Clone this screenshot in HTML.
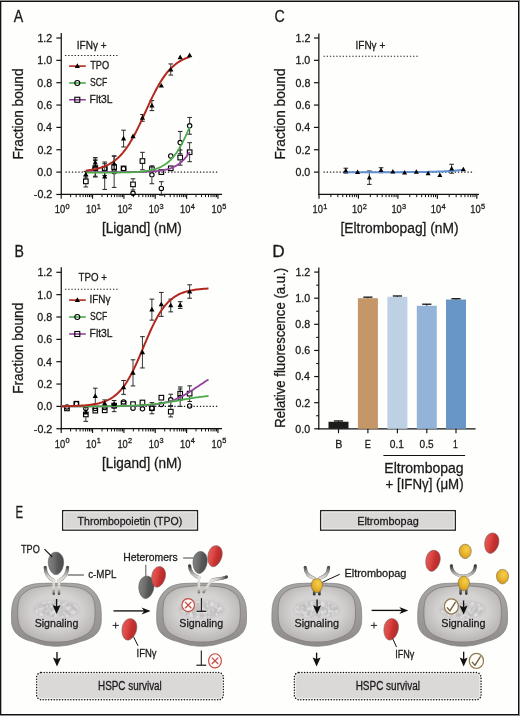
<!DOCTYPE html><html><head><meta charset="utf-8"><style>html,body{margin:0;padding:0;background:#fff;}svg{display:block;will-change:transform} text{stroke:#1a1a1a;stroke-width:0.28px}</style></head><body><svg width="520" height="716" viewBox="0 0 520 716" font-family='"Liberation Sans", sans-serif'><defs>
<linearGradient id="gOuter" x1="0" y1="0" x2="0" y2="1">
  <stop offset="0" stop-color="#a8a5a5"/><stop offset="0.55" stop-color="#9d9999"/><stop offset="1" stop-color="#8e8a8a"/>
</linearGradient>
<radialGradient id="gInner" cx="0.5" cy="0.45" r="0.55">
  <stop offset="0" stop-color="#e2e0e0"/><stop offset="0.6" stop-color="#d3d0d0"/><stop offset="1" stop-color="#b9b5b5"/>
</radialGradient>
<linearGradient id="gGray" x1="0" y1="0" x2="1" y2="0">
  <stop offset="0" stop-color="#828282"/><stop offset="0.42" stop-color="#6c6c6c"/><stop offset="0.58" stop-color="#5a5a5a"/><stop offset="1" stop-color="#4a4a4a"/>
</linearGradient>
<linearGradient id="gRed" x1="0" y1="0" x2="1" y2="0">
  <stop offset="0" stop-color="#e65a55"/><stop offset="0.42" stop-color="#d84340"/><stop offset="0.58" stop-color="#c93332"/><stop offset="1" stop-color="#b42a2a"/>
</linearGradient>
<radialGradient id="gYel" cx="0.6" cy="0.35" r="0.7">
  <stop offset="0" stop-color="#f6cf4a"/><stop offset="0.6" stop-color="#e6b22a"/><stop offset="1" stop-color="#c9951a"/>
</radialGradient>
<filter id="fChrom" x="0" y="0" width="1" height="1">
  <feTurbulence type="fractalNoise" baseFrequency="0.28" numOctaves="2" seed="3" result="n"/>
  <feColorMatrix in="n" type="matrix" values="0 0 0 0 1  0 0 0 0 1  0 0 0 0 1  1.6 0 0 0 -0.55" result="w"/>
  <feComposite in="w" in2="SourceGraphic" operator="in"/>
</filter>
<filter id="fBlur" x="-0.2" y="-0.2" width="1.4" height="1.4"><feGaussianBlur stdDeviation="1.6"/></filter>

<linearGradient id="gArm" gradientUnits="userSpaceOnUse" x1="0" y1="566" x2="0" y2="580">
  <stop offset="0" stop-color="#383838"/><stop offset="0.35" stop-color="#8e8c8a"/><stop offset="0.75" stop-color="#d6d2cd"/><stop offset="1" stop-color="#e4e0db"/>
</linearGradient>
<linearGradient id="gStem" gradientUnits="userSpaceOnUse" x1="0" y1="579" x2="0" y2="595">
  <stop offset="0" stop-color="#e6e2dd"/><stop offset="0.6" stop-color="#d6d1cb"/><stop offset="0.82" stop-color="#8a8784"/><stop offset="1" stop-color="#3a3a3a"/>
</linearGradient>
<linearGradient id="gArm2" gradientUnits="userSpaceOnUse" x1="227" y1="0" x2="212" y2="0">
  <stop offset="0" stop-color="#383838"/><stop offset="0.3" stop-color="#8e8c8a"/><stop offset="0.7" stop-color="#d6d2cd"/><stop offset="1" stop-color="#e4e0db"/>
</linearGradient>
<linearGradient id="gStub" gradientUnits="userSpaceOnUse" x1="0" y1="588" x2="0" y2="595">
  <stop offset="0" stop-color="#8a8886"/><stop offset="1" stop-color="#2e2e2e"/>
</linearGradient>
</defs><rect x="0" y="0" width="520" height="716" fill="#fefefd"/>
<text x="13.82" y="21.9" font-size="16.4" fill="#1a1a1a" textLength="9.46" lengthAdjust="spacingAndGlyphs">A</text>
<line x1="61.25" y1="33" x2="61.25" y2="194.95" stroke="#111" stroke-width="1.25"/>
<line x1="56.35" y1="38" x2="61.25" y2="38" stroke="#111" stroke-width="1.2"/>
<text x="37.4" y="41.85" font-size="11" fill="#1a1a1a" textLength="14.83" lengthAdjust="spacingAndGlyphs">1.2</text>
<line x1="56.35" y1="60.35" x2="61.25" y2="60.35" stroke="#111" stroke-width="1.2"/>
<text x="37.28" y="64.2" font-size="11" fill="#1a1a1a" textLength="14.83" lengthAdjust="spacingAndGlyphs">1.0</text>
<line x1="56.35" y1="82.7" x2="61.25" y2="82.7" stroke="#111" stroke-width="1.2"/>
<text x="37.33" y="86.55" font-size="11" fill="#1a1a1a" textLength="14.83" lengthAdjust="spacingAndGlyphs">0.8</text>
<line x1="56.35" y1="105.05" x2="61.25" y2="105.05" stroke="#111" stroke-width="1.2"/>
<text x="37.34" y="108.9" font-size="11" fill="#1a1a1a" textLength="14.83" lengthAdjust="spacingAndGlyphs">0.6</text>
<line x1="56.35" y1="127.4" x2="61.25" y2="127.4" stroke="#111" stroke-width="1.2"/>
<text x="37.18" y="131.25" font-size="11" fill="#1a1a1a" textLength="14.83" lengthAdjust="spacingAndGlyphs">0.4</text>
<line x1="56.35" y1="149.75" x2="61.25" y2="149.75" stroke="#111" stroke-width="1.2"/>
<text x="37.4" y="153.6" font-size="11" fill="#1a1a1a" textLength="14.83" lengthAdjust="spacingAndGlyphs">0.2</text>
<line x1="56.35" y1="172.1" x2="61.25" y2="172.1" stroke="#111" stroke-width="1.2"/>
<text x="37.28" y="175.95" font-size="11" fill="#1a1a1a" textLength="14.83" lengthAdjust="spacingAndGlyphs">0.0</text>
<line x1="56.35" y1="194.45" x2="61.25" y2="194.45" stroke="#111" stroke-width="1.2"/>
<text x="33.85" y="198.3" font-size="11" fill="#1a1a1a" textLength="18.39" lengthAdjust="spacingAndGlyphs">-0.2</text>
<line x1="60.6" y1="194.35" x2="222" y2="194.35" stroke="#111" stroke-width="1.25"/>
<line x1="61.2" y1="194.35" x2="61.2" y2="198.65" stroke="#111" stroke-width="1.15"/>
<text x="62.1" y="213.35" font-size="11" fill="#1a1a1a" text-anchor="middle"><tspan textLength="10.4" lengthAdjust="spacingAndGlyphs">10</tspan><tspan font-size="7.4" dy="-4.6" dx="0.3">0</tspan></text>
<line x1="70.64" y1="194.35" x2="70.64" y2="197.15" stroke="#111" stroke-width="1"/>
<line x1="76.16" y1="194.35" x2="76.16" y2="197.15" stroke="#111" stroke-width="1"/>
<line x1="80.07" y1="194.35" x2="80.07" y2="197.15" stroke="#111" stroke-width="1"/>
<line x1="83.11" y1="194.35" x2="83.11" y2="197.15" stroke="#111" stroke-width="1"/>
<line x1="85.6" y1="194.35" x2="85.6" y2="197.15" stroke="#111" stroke-width="1"/>
<line x1="87.69" y1="194.35" x2="87.69" y2="197.15" stroke="#111" stroke-width="1"/>
<line x1="89.51" y1="194.35" x2="89.51" y2="197.15" stroke="#111" stroke-width="1"/>
<line x1="91.12" y1="194.35" x2="91.12" y2="197.15" stroke="#111" stroke-width="1"/>
<line x1="92.55" y1="194.35" x2="92.55" y2="198.65" stroke="#111" stroke-width="1.15"/>
<text x="93.45" y="213.35" font-size="11" fill="#1a1a1a" text-anchor="middle"><tspan textLength="10.4" lengthAdjust="spacingAndGlyphs">10</tspan><tspan font-size="7.4" dy="-4.6" dx="0.3">1</tspan></text>
<line x1="101.99" y1="194.35" x2="101.99" y2="197.15" stroke="#111" stroke-width="1"/>
<line x1="107.51" y1="194.35" x2="107.51" y2="197.15" stroke="#111" stroke-width="1"/>
<line x1="111.42" y1="194.35" x2="111.42" y2="197.15" stroke="#111" stroke-width="1"/>
<line x1="114.46" y1="194.35" x2="114.46" y2="197.15" stroke="#111" stroke-width="1"/>
<line x1="116.95" y1="194.35" x2="116.95" y2="197.15" stroke="#111" stroke-width="1"/>
<line x1="119.04" y1="194.35" x2="119.04" y2="197.15" stroke="#111" stroke-width="1"/>
<line x1="120.86" y1="194.35" x2="120.86" y2="197.15" stroke="#111" stroke-width="1"/>
<line x1="122.47" y1="194.35" x2="122.47" y2="197.15" stroke="#111" stroke-width="1"/>
<line x1="123.9" y1="194.35" x2="123.9" y2="198.65" stroke="#111" stroke-width="1.15"/>
<text x="124.8" y="213.35" font-size="11" fill="#1a1a1a" text-anchor="middle"><tspan textLength="10.4" lengthAdjust="spacingAndGlyphs">10</tspan><tspan font-size="7.4" dy="-4.6" dx="0.3">2</tspan></text>
<line x1="133.34" y1="194.35" x2="133.34" y2="197.15" stroke="#111" stroke-width="1"/>
<line x1="138.86" y1="194.35" x2="138.86" y2="197.15" stroke="#111" stroke-width="1"/>
<line x1="142.77" y1="194.35" x2="142.77" y2="197.15" stroke="#111" stroke-width="1"/>
<line x1="145.81" y1="194.35" x2="145.81" y2="197.15" stroke="#111" stroke-width="1"/>
<line x1="148.3" y1="194.35" x2="148.3" y2="197.15" stroke="#111" stroke-width="1"/>
<line x1="150.39" y1="194.35" x2="150.39" y2="197.15" stroke="#111" stroke-width="1"/>
<line x1="152.21" y1="194.35" x2="152.21" y2="197.15" stroke="#111" stroke-width="1"/>
<line x1="153.82" y1="194.35" x2="153.82" y2="197.15" stroke="#111" stroke-width="1"/>
<line x1="155.25" y1="194.35" x2="155.25" y2="198.65" stroke="#111" stroke-width="1.15"/>
<text x="156.15" y="213.35" font-size="11" fill="#1a1a1a" text-anchor="middle"><tspan textLength="10.4" lengthAdjust="spacingAndGlyphs">10</tspan><tspan font-size="7.4" dy="-4.6" dx="0.3">3</tspan></text>
<line x1="164.69" y1="194.35" x2="164.69" y2="197.15" stroke="#111" stroke-width="1"/>
<line x1="170.21" y1="194.35" x2="170.21" y2="197.15" stroke="#111" stroke-width="1"/>
<line x1="174.12" y1="194.35" x2="174.12" y2="197.15" stroke="#111" stroke-width="1"/>
<line x1="177.16" y1="194.35" x2="177.16" y2="197.15" stroke="#111" stroke-width="1"/>
<line x1="179.65" y1="194.35" x2="179.65" y2="197.15" stroke="#111" stroke-width="1"/>
<line x1="181.74" y1="194.35" x2="181.74" y2="197.15" stroke="#111" stroke-width="1"/>
<line x1="183.56" y1="194.35" x2="183.56" y2="197.15" stroke="#111" stroke-width="1"/>
<line x1="185.17" y1="194.35" x2="185.17" y2="197.15" stroke="#111" stroke-width="1"/>
<line x1="186.6" y1="194.35" x2="186.6" y2="198.65" stroke="#111" stroke-width="1.15"/>
<text x="187.5" y="213.35" font-size="11" fill="#1a1a1a" text-anchor="middle"><tspan textLength="10.4" lengthAdjust="spacingAndGlyphs">10</tspan><tspan font-size="7.4" dy="-4.6" dx="0.3">4</tspan></text>
<line x1="196.04" y1="194.35" x2="196.04" y2="197.15" stroke="#111" stroke-width="1"/>
<line x1="201.56" y1="194.35" x2="201.56" y2="197.15" stroke="#111" stroke-width="1"/>
<line x1="205.47" y1="194.35" x2="205.47" y2="197.15" stroke="#111" stroke-width="1"/>
<line x1="208.51" y1="194.35" x2="208.51" y2="197.15" stroke="#111" stroke-width="1"/>
<line x1="211" y1="194.35" x2="211" y2="197.15" stroke="#111" stroke-width="1"/>
<line x1="213.09" y1="194.35" x2="213.09" y2="197.15" stroke="#111" stroke-width="1"/>
<line x1="214.91" y1="194.35" x2="214.91" y2="197.15" stroke="#111" stroke-width="1"/>
<line x1="216.52" y1="194.35" x2="216.52" y2="197.15" stroke="#111" stroke-width="1"/>
<line x1="217.95" y1="194.35" x2="217.95" y2="198.65" stroke="#111" stroke-width="1.15"/>
<text x="218.85" y="213.35" font-size="11" fill="#1a1a1a" text-anchor="middle"><tspan textLength="10.4" lengthAdjust="spacingAndGlyphs">10</tspan><tspan font-size="7.4" dy="-4.6" dx="0.3">5</tspan></text>
<text x="101.98" y="233.2" font-size="13.8" fill="#1a1a1a" textLength="79.91" lengthAdjust="spacingAndGlyphs">[Ligand] (nM)</text>
<text transform="translate(22.8 159.57) rotate(-90)" font-size="13.8" fill="#1a1a1a" textLength="91.1" lengthAdjust="spacingAndGlyphs">Fraction bound</text>
<line x1="65.5" y1="172.1" x2="217.5" y2="172.1" stroke="#222" stroke-width="1.1" stroke-dasharray="1.3 1.9"/>
<text x="76.82" y="48.5" font-size="10.8" fill="#1a1a1a" textLength="29.82" lengthAdjust="spacingAndGlyphs">IFNγ +</text>
<line x1="65" y1="55.5" x2="118.2" y2="55.5" stroke="#222" stroke-width="1.1" stroke-dasharray="1.3 1.9"/>
<line x1="69.1" y1="66.1" x2="85.8" y2="66.1" stroke="#b2281f" stroke-width="1.6"/>
<text x="90.24" y="69.15" font-size="10.8" fill="#1a1a1a" textLength="18.95" lengthAdjust="spacingAndGlyphs">TPO</text>
<line x1="69.1" y1="83" x2="85.8" y2="83" stroke="#4caa4c" stroke-width="1.6"/>
<text x="90.06" y="86.05" font-size="10.8" fill="#1a1a1a" textLength="17.24" lengthAdjust="spacingAndGlyphs">SCF</text>
<line x1="69.1" y1="99.75" x2="85.8" y2="99.75" stroke="#93429b" stroke-width="1.6"/>
<text x="89.6" y="102.8" font-size="10.8" fill="#1a1a1a" textLength="22.99" lengthAdjust="spacingAndGlyphs">Flt3L</text>
<path d="M77.35 63.29L79.95 67.97L74.75 67.97Z" fill="#000"/>
<circle cx="77.3" cy="83" r="2.5" fill="none" stroke="#000" stroke-width="1.1"/>
<rect x="74.8" y="97.25" width="5" height="5" fill="none" stroke="#000" stroke-width="1.1"/>
<line x1="85.83" y1="175.79" x2="85.83" y2="178.48" stroke="#222" stroke-width="0.9"/>
<line x1="85.83" y1="184.28" x2="85.83" y2="186.96" stroke="#222" stroke-width="0.9"/>
<line x1="83.53" y1="175.79" x2="88.13" y2="175.79" stroke="#222" stroke-width="1"/>
<line x1="83.53" y1="186.96" x2="88.13" y2="186.96" stroke="#222" stroke-width="1"/>
<line x1="95.27" y1="159.14" x2="95.27" y2="165.18" stroke="#222" stroke-width="0.9"/>
<line x1="95.27" y1="170.98" x2="95.27" y2="177.02" stroke="#222" stroke-width="0.9"/>
<line x1="92.97" y1="159.14" x2="97.57" y2="159.14" stroke="#222" stroke-width="1"/>
<line x1="92.97" y1="177.02" x2="97.57" y2="177.02" stroke="#222" stroke-width="1"/>
<line x1="133.01" y1="178.81" x2="133.01" y2="181.49" stroke="#222" stroke-width="0.9"/>
<line x1="133.01" y1="187.29" x2="133.01" y2="189.98" stroke="#222" stroke-width="0.9"/>
<line x1="130.71" y1="178.81" x2="135.31" y2="178.81" stroke="#222" stroke-width="1"/>
<line x1="130.71" y1="189.98" x2="135.31" y2="189.98" stroke="#222" stroke-width="1"/>
<line x1="142.45" y1="152.32" x2="142.45" y2="158.14" stroke="#222" stroke-width="0.9"/>
<line x1="142.45" y1="163.94" x2="142.45" y2="169.75" stroke="#222" stroke-width="0.9"/>
<line x1="140.15" y1="152.32" x2="144.75" y2="152.32" stroke="#222" stroke-width="1"/>
<line x1="140.15" y1="169.75" x2="144.75" y2="169.75" stroke="#222" stroke-width="1"/>
<line x1="180.2" y1="149.97" x2="180.2" y2="154.67" stroke="#222" stroke-width="0.9"/>
<line x1="180.2" y1="160.47" x2="180.2" y2="165.17" stroke="#222" stroke-width="0.9"/>
<line x1="177.9" y1="149.97" x2="182.5" y2="149.97" stroke="#222" stroke-width="1"/>
<line x1="177.9" y1="165.17" x2="182.5" y2="165.17" stroke="#222" stroke-width="1"/>
<line x1="189.64" y1="142.71" x2="189.64" y2="149.31" stroke="#222" stroke-width="0.9"/>
<line x1="189.64" y1="155.11" x2="189.64" y2="161.71" stroke="#222" stroke-width="0.9"/>
<line x1="187.34" y1="142.71" x2="191.94" y2="142.71" stroke="#222" stroke-width="1"/>
<line x1="187.34" y1="161.71" x2="191.94" y2="161.71" stroke="#222" stroke-width="1"/>
<line x1="95.27" y1="160.59" x2="95.27" y2="165.61" stroke="#222" stroke-width="0.9"/>
<line x1="95.27" y1="171.21" x2="95.27" y2="176.23" stroke="#222" stroke-width="0.9"/>
<line x1="92.97" y1="160.59" x2="97.57" y2="160.59" stroke="#222" stroke-width="1"/>
<line x1="92.97" y1="176.23" x2="97.57" y2="176.23" stroke="#222" stroke-width="1"/>
<line x1="104.7" y1="162.04" x2="104.7" y2="165.95" stroke="#222" stroke-width="0.9"/>
<line x1="104.7" y1="171.55" x2="104.7" y2="175.45" stroke="#222" stroke-width="0.9"/>
<line x1="102.4" y1="162.04" x2="107" y2="162.04" stroke="#222" stroke-width="1"/>
<line x1="102.4" y1="175.45" x2="107" y2="175.45" stroke="#222" stroke-width="1"/>
<line x1="114.14" y1="156.12" x2="114.14" y2="168.96" stroke="#222" stroke-width="0.9"/>
<line x1="114.14" y1="174.56" x2="114.14" y2="187.41" stroke="#222" stroke-width="0.9"/>
<line x1="111.84" y1="156.12" x2="116.44" y2="156.12" stroke="#222" stroke-width="1"/>
<line x1="111.84" y1="187.41" x2="116.44" y2="187.41" stroke="#222" stroke-width="1"/>
<line x1="151.89" y1="165.84" x2="151.89" y2="171.98" stroke="#222" stroke-width="0.9"/>
<line x1="151.89" y1="177.58" x2="151.89" y2="183.72" stroke="#222" stroke-width="0.9"/>
<line x1="149.59" y1="165.84" x2="154.19" y2="165.84" stroke="#222" stroke-width="1"/>
<line x1="149.59" y1="183.72" x2="154.19" y2="183.72" stroke="#222" stroke-width="1"/>
<line x1="161.33" y1="181.71" x2="161.33" y2="185.62" stroke="#222" stroke-width="0.9"/>
<line x1="161.33" y1="191.22" x2="161.33" y2="195.12" stroke="#222" stroke-width="0.9"/>
<line x1="159.03" y1="181.71" x2="163.63" y2="181.71" stroke="#222" stroke-width="1"/>
<line x1="159.03" y1="195.12" x2="163.63" y2="195.12" stroke="#222" stroke-width="1"/>
<line x1="180.2" y1="131.42" x2="180.2" y2="139.8" stroke="#222" stroke-width="0.9"/>
<line x1="180.2" y1="145.4" x2="180.2" y2="153.77" stroke="#222" stroke-width="0.9"/>
<line x1="177.9" y1="131.42" x2="182.5" y2="131.42" stroke="#222" stroke-width="1"/>
<line x1="177.9" y1="153.77" x2="182.5" y2="153.77" stroke="#222" stroke-width="1"/>
<line x1="189.64" y1="117.45" x2="189.64" y2="123.04" stroke="#222" stroke-width="0.9"/>
<line x1="189.64" y1="128.64" x2="189.64" y2="134.22" stroke="#222" stroke-width="0.9"/>
<line x1="187.34" y1="117.45" x2="191.94" y2="117.45" stroke="#222" stroke-width="1"/>
<line x1="187.34" y1="134.22" x2="191.94" y2="134.22" stroke="#222" stroke-width="1"/>
<line x1="85.83" y1="171.32" x2="85.83" y2="178.02" stroke="#222" stroke-width="0.9"/>
<line x1="83.53" y1="171.32" x2="88.13" y2="171.32" stroke="#222" stroke-width="1"/>
<line x1="83.53" y1="178.02" x2="88.13" y2="178.02" stroke="#222" stroke-width="1"/>
<line x1="95.27" y1="157.57" x2="95.27" y2="167.63" stroke="#222" stroke-width="0.9"/>
<line x1="92.97" y1="157.57" x2="97.57" y2="157.57" stroke="#222" stroke-width="1"/>
<line x1="92.97" y1="167.63" x2="97.57" y2="167.63" stroke="#222" stroke-width="1"/>
<line x1="104.7" y1="163.72" x2="104.7" y2="189.42" stroke="#222" stroke-width="0.9"/>
<line x1="102.4" y1="163.72" x2="107" y2="163.72" stroke="#222" stroke-width="1"/>
<line x1="102.4" y1="189.42" x2="107" y2="189.42" stroke="#222" stroke-width="1"/>
<line x1="114.14" y1="155.9" x2="114.14" y2="171.54" stroke="#222" stroke-width="0.9"/>
<line x1="111.84" y1="155.9" x2="116.44" y2="155.9" stroke="#222" stroke-width="1"/>
<line x1="111.84" y1="171.54" x2="116.44" y2="171.54" stroke="#222" stroke-width="1"/>
<line x1="123.58" y1="130.19" x2="123.58" y2="146.96" stroke="#222" stroke-width="0.9"/>
<line x1="121.28" y1="130.19" x2="125.88" y2="130.19" stroke="#222" stroke-width="1"/>
<line x1="121.28" y1="146.96" x2="125.88" y2="146.96" stroke="#222" stroke-width="1"/>
<line x1="142.45" y1="114.55" x2="142.45" y2="121.25" stroke="#222" stroke-width="0.9"/>
<line x1="140.15" y1="114.55" x2="144.75" y2="114.55" stroke="#222" stroke-width="1"/>
<line x1="140.15" y1="121.25" x2="144.75" y2="121.25" stroke="#222" stroke-width="1"/>
<line x1="151.89" y1="100.58" x2="151.89" y2="110.64" stroke="#222" stroke-width="0.9"/>
<line x1="149.59" y1="100.58" x2="154.19" y2="100.58" stroke="#222" stroke-width="1"/>
<line x1="149.59" y1="110.64" x2="154.19" y2="110.64" stroke="#222" stroke-width="1"/>
<line x1="170.76" y1="63.93" x2="170.76" y2="75.1" stroke="#222" stroke-width="0.9"/>
<line x1="168.46" y1="63.93" x2="173.06" y2="63.93" stroke="#222" stroke-width="1"/>
<line x1="168.46" y1="75.1" x2="173.06" y2="75.1" stroke="#222" stroke-width="1"/>
<circle cx="95.27" cy="168.41" r="2.2" fill="none" stroke="#000" stroke-width="1.1"/>
<circle cx="104.7" cy="168.75" r="2.2" fill="none" stroke="#000" stroke-width="1.1"/>
<circle cx="114.14" cy="171.76" r="2.2" fill="none" stroke="#000" stroke-width="1.1"/>
<circle cx="123.58" cy="168.75" r="2.2" fill="none" stroke="#000" stroke-width="1.1"/>
<circle cx="133.01" cy="193.33" r="2.2" fill="none" stroke="#000" stroke-width="1.1"/>
<circle cx="151.89" cy="174.78" r="2.2" fill="none" stroke="#000" stroke-width="1.1"/>
<circle cx="161.33" cy="188.42" r="2.2" fill="none" stroke="#000" stroke-width="1.1"/>
<circle cx="170.76" cy="156.01" r="2.2" fill="none" stroke="#000" stroke-width="1.1"/>
<circle cx="180.2" cy="142.6" r="2.2" fill="none" stroke="#000" stroke-width="1.1"/>
<circle cx="189.64" cy="125.84" r="2.2" fill="none" stroke="#000" stroke-width="1.1"/>
<rect x="83.53" y="179.08" width="4.6" height="4.6" fill="none" stroke="#000" stroke-width="1.1"/>
<rect x="92.97" y="165.78" width="4.6" height="4.6" fill="none" stroke="#000" stroke-width="1.1"/>
<rect x="102.4" y="166.45" width="4.6" height="4.6" fill="none" stroke="#000" stroke-width="1.1"/>
<rect x="111.84" y="164.77" width="4.6" height="4.6" fill="none" stroke="#000" stroke-width="1.1"/>
<rect x="121.28" y="166.11" width="4.6" height="4.6" fill="none" stroke="#000" stroke-width="1.1"/>
<rect x="130.71" y="182.09" width="4.6" height="4.6" fill="none" stroke="#000" stroke-width="1.1"/>
<rect x="140.15" y="158.74" width="4.6" height="4.6" fill="none" stroke="#000" stroke-width="1.1"/>
<rect x="149.59" y="166.89" width="4.6" height="4.6" fill="none" stroke="#000" stroke-width="1.1"/>
<rect x="159.03" y="169.8" width="4.6" height="4.6" fill="none" stroke="#000" stroke-width="1.1"/>
<rect x="168.46" y="166" width="4.6" height="4.6" fill="none" stroke="#000" stroke-width="1.1"/>
<rect x="177.9" y="155.27" width="4.6" height="4.6" fill="none" stroke="#000" stroke-width="1.1"/>
<rect x="187.34" y="149.91" width="4.6" height="4.6" fill="none" stroke="#000" stroke-width="1.1"/>
<path d="M85.83,172.1 L86.69,172.1 L87.56,172.1 L88.42,172.1 L89.29,172.1 L90.15,172.1 L91.02,172.1 L91.88,172.1 L92.75,172.1 L93.61,172.1 L94.48,172.1 L95.34,172.1 L96.21,172.1 L97.07,172.1 L97.94,172.1 L98.8,172.1 L99.67,172.1 L100.53,172.1 L101.4,172.09 L102.26,172.09 L103.13,172.09 L103.99,172.09 L104.86,172.09 L105.72,172.09 L106.59,172.09 L107.46,172.09 L108.32,172.09 L109.19,172.09 L110.05,172.09 L110.92,172.09 L111.78,172.09 L112.65,172.08 L113.51,172.08 L114.38,172.08 L115.24,172.08 L116.11,172.08 L116.97,172.08 L117.84,172.07 L118.7,172.07 L119.57,172.07 L120.43,172.07 L121.3,172.06 L122.16,172.06 L123.03,172.06 L123.89,172.05 L124.76,172.05 L125.62,172.05 L126.49,172.04 L127.35,172.04 L128.22,172.03 L129.08,172.02 L129.95,172.02 L130.81,172.01 L131.68,172 L132.54,171.99 L133.41,171.99 L134.27,171.98 L135.14,171.97 L136,171.95 L136.87,171.94 L137.73,171.93 L138.6,171.91 L139.46,171.9 L140.33,171.88 L141.19,171.86 L142.06,171.84 L142.92,171.82 L143.79,171.79 L144.65,171.77 L145.52,171.74 L146.38,171.71 L147.25,171.67 L148.11,171.64 L148.98,171.6 L149.84,171.55 L150.71,171.51 L151.57,171.46 L152.44,171.4 L153.3,171.34 L154.17,171.28 L155.03,171.21 L155.9,171.13 L156.76,171.05 L157.63,170.96 L158.5,170.86 L159.36,170.75 L160.23,170.64 L161.09,170.51 L161.96,170.38 L162.82,170.23 L163.69,170.08 L164.55,169.91 L165.42,169.72 L166.28,169.52 L167.15,169.3 L168.01,169.07 L168.88,168.82 L169.74,168.54 L170.61,168.25 L171.47,167.93 L172.34,167.58 L173.2,167.21 L174.07,166.81 L174.93,166.38 L175.8,165.91 L176.66,165.41 L177.53,164.87 L178.39,164.3 L179.26,163.67 L180.12,163.01 L180.99,162.29 L181.85,161.53 L182.72,160.71 L183.58,159.84 L184.45,158.91 L185.31,157.92 L186.18,156.86 L187.04,155.74 L187.91,154.55 L188.77,153.3 L189.64,151.97" fill="none" stroke="#93429b" stroke-width="1.8"/>
<path d="M85.83,172.65 L86.69,172.65 L87.56,172.65 L88.42,172.65 L89.29,172.65 L90.15,172.65 L91.02,172.65 L91.88,172.64 L92.75,172.64 L93.61,172.64 L94.48,172.64 L95.34,172.64 L96.21,172.64 L97.07,172.64 L97.94,172.63 L98.8,172.63 L99.67,172.63 L100.53,172.63 L101.4,172.63 L102.26,172.62 L103.13,172.62 L103.99,172.62 L104.86,172.61 L105.72,172.61 L106.59,172.61 L107.46,172.6 L108.32,172.6 L109.19,172.59 L110.05,172.59 L110.92,172.58 L111.78,172.58 L112.65,172.57 L113.51,172.56 L114.38,172.56 L115.24,172.55 L116.11,172.54 L116.97,172.53 L117.84,172.52 L118.7,172.51 L119.57,172.5 L120.43,172.49 L121.3,172.47 L122.16,172.46 L123.03,172.44 L123.89,172.42 L124.76,172.41 L125.62,172.39 L126.49,172.36 L127.35,172.34 L128.22,172.32 L129.08,172.29 L129.95,172.26 L130.81,172.23 L131.68,172.19 L132.54,172.16 L133.41,172.12 L134.27,172.07 L135.14,172.03 L136,171.98 L136.87,171.93 L137.73,171.87 L138.6,171.81 L139.46,171.74 L140.33,171.67 L141.19,171.59 L142.06,171.5 L142.92,171.41 L143.79,171.32 L144.65,171.21 L145.52,171.1 L146.38,170.98 L147.25,170.85 L148.11,170.7 L148.98,170.55 L149.84,170.39 L150.71,170.21 L151.57,170.02 L152.44,169.82 L153.3,169.6 L154.17,169.37 L155.03,169.11 L155.9,168.84 L156.76,168.55 L157.63,168.24 L158.5,167.9 L159.36,167.55 L160.23,167.16 L161.09,166.75 L161.96,166.31 L162.82,165.83 L163.69,165.33 L164.55,164.79 L165.42,164.21 L166.28,163.6 L167.15,162.94 L168.01,162.24 L168.88,161.5 L169.74,160.71 L170.61,159.87 L171.47,158.98 L172.34,158.04 L173.2,157.05 L174.07,155.99 L174.93,154.88 L175.8,153.71 L176.66,152.48 L177.53,151.19 L178.39,149.84 L179.26,148.42 L180.12,146.94 L180.99,145.4 L181.85,143.8 L182.72,142.14 L183.58,140.42 L184.45,138.64 L185.31,136.81 L186.18,134.93 L187.04,133 L187.91,131.03 L188.77,129.02 L189.64,126.98" fill="none" stroke="#4caa4c" stroke-width="1.8"/>
<path d="M85.83,170.6 L86.69,170.5 L87.56,170.4 L88.42,170.29 L89.29,170.17 L90.15,170.05 L91.02,169.91 L91.88,169.77 L92.75,169.62 L93.61,169.47 L94.48,169.3 L95.34,169.12 L96.21,168.93 L97.07,168.73 L97.94,168.51 L98.8,168.28 L99.67,168.04 L100.53,167.78 L101.4,167.51 L102.26,167.22 L103.13,166.92 L103.99,166.59 L104.86,166.25 L105.72,165.88 L106.59,165.5 L107.46,165.09 L108.32,164.66 L109.19,164.2 L110.05,163.72 L110.92,163.21 L111.78,162.68 L112.65,162.11 L113.51,161.51 L114.38,160.88 L115.24,160.22 L116.11,159.52 L116.97,158.79 L117.84,158.02 L118.7,157.21 L119.57,156.36 L120.43,155.48 L121.3,154.55 L122.16,153.57 L123.03,152.56 L123.89,151.49 L124.76,150.39 L125.62,149.24 L126.49,148.04 L127.35,146.79 L128.22,145.5 L129.08,144.17 L129.95,142.78 L130.81,141.35 L131.68,139.88 L132.54,138.36 L133.41,136.8 L134.27,135.2 L135.14,133.56 L136,131.88 L136.87,130.17 L137.73,128.43 L138.6,126.65 L139.46,124.85 L140.33,123.02 L141.19,121.17 L142.06,119.3 L142.92,117.42 L143.79,115.53 L144.65,113.64 L145.52,111.74 L146.38,109.84 L147.25,107.95 L148.11,106.06 L148.98,104.19 L149.84,102.34 L150.71,100.5 L151.57,98.69 L152.44,96.9 L153.3,95.14 L154.17,93.42 L155.03,91.72 L155.9,90.07 L156.76,88.45 L157.63,86.87 L158.5,85.34 L159.36,83.85 L160.23,82.4 L161.09,81 L161.96,79.65 L162.82,78.34 L163.69,77.07 L164.55,75.86 L165.42,74.69 L166.28,73.56 L167.15,72.49 L168.01,71.45 L168.88,70.46 L169.74,69.51 L170.61,68.61 L171.47,67.74 L172.34,66.92 L173.2,66.14 L174.07,65.39 L174.93,64.68 L175.8,64 L176.66,63.36 L177.53,62.75 L178.39,62.17 L179.26,61.62 L180.12,61.1 L180.99,60.61 L181.85,60.14 L182.72,59.7 L183.58,59.29 L184.45,58.89 L185.31,58.52 L186.18,58.17 L187.04,57.84 L187.91,57.52 L188.77,57.23 L189.64,56.95" fill="none" stroke="#b2281f" stroke-width="2.0"/>
<path d="M85.83 171.86L88.43 176.54L83.23 176.54Z" fill="#000"/>
<path d="M95.27 159.79L97.87 164.47L92.67 164.47Z" fill="#000"/>
<path d="M104.7 173.76L107.3 178.44L102.1 178.44Z" fill="#000"/>
<path d="M114.14 160.91L116.74 165.59L111.54 165.59Z" fill="#000"/>
<path d="M123.58 135.77L126.18 140.45L120.98 140.45Z" fill="#000"/>
<path d="M133.01 133.53L135.61 138.21L130.41 138.21Z" fill="#000"/>
<path d="M142.45 115.09L145.05 119.77L139.85 119.77Z" fill="#000"/>
<path d="M151.89 102.8L154.49 107.48L149.29 107.48Z" fill="#000"/>
<path d="M161.33 82.91L163.93 87.59L158.73 87.59Z" fill="#000"/>
<path d="M170.76 66.71L173.36 71.39L168.16 71.39Z" fill="#000"/>
<path d="M180.2 54.52L182.8 59.2L177.6 59.2Z" fill="#000"/>
<path d="M189.64 52.51L192.24 57.19L187.04 57.19Z" fill="#000"/>
<text x="14.39" y="256.7" font-size="16.4" fill="#1a1a1a" textLength="9.4" lengthAdjust="spacingAndGlyphs">B</text>
<line x1="61.25" y1="267.3" x2="61.25" y2="429.25" stroke="#111" stroke-width="1.25"/>
<line x1="56.35" y1="272.3" x2="61.25" y2="272.3" stroke="#111" stroke-width="1.2"/>
<text x="37.4" y="276.15" font-size="11" fill="#1a1a1a" textLength="14.83" lengthAdjust="spacingAndGlyphs">1.2</text>
<line x1="56.35" y1="294.65" x2="61.25" y2="294.65" stroke="#111" stroke-width="1.2"/>
<text x="37.28" y="298.5" font-size="11" fill="#1a1a1a" textLength="14.83" lengthAdjust="spacingAndGlyphs">1.0</text>
<line x1="56.35" y1="317" x2="61.25" y2="317" stroke="#111" stroke-width="1.2"/>
<text x="37.33" y="320.85" font-size="11" fill="#1a1a1a" textLength="14.83" lengthAdjust="spacingAndGlyphs">0.8</text>
<line x1="56.35" y1="339.35" x2="61.25" y2="339.35" stroke="#111" stroke-width="1.2"/>
<text x="37.34" y="343.2" font-size="11" fill="#1a1a1a" textLength="14.83" lengthAdjust="spacingAndGlyphs">0.6</text>
<line x1="56.35" y1="361.7" x2="61.25" y2="361.7" stroke="#111" stroke-width="1.2"/>
<text x="37.18" y="365.55" font-size="11" fill="#1a1a1a" textLength="14.83" lengthAdjust="spacingAndGlyphs">0.4</text>
<line x1="56.35" y1="384.05" x2="61.25" y2="384.05" stroke="#111" stroke-width="1.2"/>
<text x="37.4" y="387.9" font-size="11" fill="#1a1a1a" textLength="14.83" lengthAdjust="spacingAndGlyphs">0.2</text>
<line x1="56.35" y1="406.4" x2="61.25" y2="406.4" stroke="#111" stroke-width="1.2"/>
<text x="37.28" y="410.25" font-size="11" fill="#1a1a1a" textLength="14.83" lengthAdjust="spacingAndGlyphs">0.0</text>
<line x1="56.35" y1="428.75" x2="61.25" y2="428.75" stroke="#111" stroke-width="1.2"/>
<text x="33.85" y="432.6" font-size="11" fill="#1a1a1a" textLength="18.39" lengthAdjust="spacingAndGlyphs">-0.2</text>
<line x1="60.6" y1="428.65" x2="222" y2="428.65" stroke="#111" stroke-width="1.25"/>
<line x1="61.2" y1="428.65" x2="61.2" y2="432.95" stroke="#111" stroke-width="1.15"/>
<text x="62.1" y="447.65" font-size="11" fill="#1a1a1a" text-anchor="middle"><tspan textLength="10.4" lengthAdjust="spacingAndGlyphs">10</tspan><tspan font-size="7.4" dy="-4.6" dx="0.3">0</tspan></text>
<line x1="70.64" y1="428.65" x2="70.64" y2="431.45" stroke="#111" stroke-width="1"/>
<line x1="76.16" y1="428.65" x2="76.16" y2="431.45" stroke="#111" stroke-width="1"/>
<line x1="80.07" y1="428.65" x2="80.07" y2="431.45" stroke="#111" stroke-width="1"/>
<line x1="83.11" y1="428.65" x2="83.11" y2="431.45" stroke="#111" stroke-width="1"/>
<line x1="85.6" y1="428.65" x2="85.6" y2="431.45" stroke="#111" stroke-width="1"/>
<line x1="87.69" y1="428.65" x2="87.69" y2="431.45" stroke="#111" stroke-width="1"/>
<line x1="89.51" y1="428.65" x2="89.51" y2="431.45" stroke="#111" stroke-width="1"/>
<line x1="91.12" y1="428.65" x2="91.12" y2="431.45" stroke="#111" stroke-width="1"/>
<line x1="92.55" y1="428.65" x2="92.55" y2="432.95" stroke="#111" stroke-width="1.15"/>
<text x="93.45" y="447.65" font-size="11" fill="#1a1a1a" text-anchor="middle"><tspan textLength="10.4" lengthAdjust="spacingAndGlyphs">10</tspan><tspan font-size="7.4" dy="-4.6" dx="0.3">1</tspan></text>
<line x1="101.99" y1="428.65" x2="101.99" y2="431.45" stroke="#111" stroke-width="1"/>
<line x1="107.51" y1="428.65" x2="107.51" y2="431.45" stroke="#111" stroke-width="1"/>
<line x1="111.42" y1="428.65" x2="111.42" y2="431.45" stroke="#111" stroke-width="1"/>
<line x1="114.46" y1="428.65" x2="114.46" y2="431.45" stroke="#111" stroke-width="1"/>
<line x1="116.95" y1="428.65" x2="116.95" y2="431.45" stroke="#111" stroke-width="1"/>
<line x1="119.04" y1="428.65" x2="119.04" y2="431.45" stroke="#111" stroke-width="1"/>
<line x1="120.86" y1="428.65" x2="120.86" y2="431.45" stroke="#111" stroke-width="1"/>
<line x1="122.47" y1="428.65" x2="122.47" y2="431.45" stroke="#111" stroke-width="1"/>
<line x1="123.9" y1="428.65" x2="123.9" y2="432.95" stroke="#111" stroke-width="1.15"/>
<text x="124.8" y="447.65" font-size="11" fill="#1a1a1a" text-anchor="middle"><tspan textLength="10.4" lengthAdjust="spacingAndGlyphs">10</tspan><tspan font-size="7.4" dy="-4.6" dx="0.3">2</tspan></text>
<line x1="133.34" y1="428.65" x2="133.34" y2="431.45" stroke="#111" stroke-width="1"/>
<line x1="138.86" y1="428.65" x2="138.86" y2="431.45" stroke="#111" stroke-width="1"/>
<line x1="142.77" y1="428.65" x2="142.77" y2="431.45" stroke="#111" stroke-width="1"/>
<line x1="145.81" y1="428.65" x2="145.81" y2="431.45" stroke="#111" stroke-width="1"/>
<line x1="148.3" y1="428.65" x2="148.3" y2="431.45" stroke="#111" stroke-width="1"/>
<line x1="150.39" y1="428.65" x2="150.39" y2="431.45" stroke="#111" stroke-width="1"/>
<line x1="152.21" y1="428.65" x2="152.21" y2="431.45" stroke="#111" stroke-width="1"/>
<line x1="153.82" y1="428.65" x2="153.82" y2="431.45" stroke="#111" stroke-width="1"/>
<line x1="155.25" y1="428.65" x2="155.25" y2="432.95" stroke="#111" stroke-width="1.15"/>
<text x="156.15" y="447.65" font-size="11" fill="#1a1a1a" text-anchor="middle"><tspan textLength="10.4" lengthAdjust="spacingAndGlyphs">10</tspan><tspan font-size="7.4" dy="-4.6" dx="0.3">3</tspan></text>
<line x1="164.69" y1="428.65" x2="164.69" y2="431.45" stroke="#111" stroke-width="1"/>
<line x1="170.21" y1="428.65" x2="170.21" y2="431.45" stroke="#111" stroke-width="1"/>
<line x1="174.12" y1="428.65" x2="174.12" y2="431.45" stroke="#111" stroke-width="1"/>
<line x1="177.16" y1="428.65" x2="177.16" y2="431.45" stroke="#111" stroke-width="1"/>
<line x1="179.65" y1="428.65" x2="179.65" y2="431.45" stroke="#111" stroke-width="1"/>
<line x1="181.74" y1="428.65" x2="181.74" y2="431.45" stroke="#111" stroke-width="1"/>
<line x1="183.56" y1="428.65" x2="183.56" y2="431.45" stroke="#111" stroke-width="1"/>
<line x1="185.17" y1="428.65" x2="185.17" y2="431.45" stroke="#111" stroke-width="1"/>
<line x1="186.6" y1="428.65" x2="186.6" y2="432.95" stroke="#111" stroke-width="1.15"/>
<text x="187.5" y="447.65" font-size="11" fill="#1a1a1a" text-anchor="middle"><tspan textLength="10.4" lengthAdjust="spacingAndGlyphs">10</tspan><tspan font-size="7.4" dy="-4.6" dx="0.3">4</tspan></text>
<line x1="196.04" y1="428.65" x2="196.04" y2="431.45" stroke="#111" stroke-width="1"/>
<line x1="201.56" y1="428.65" x2="201.56" y2="431.45" stroke="#111" stroke-width="1"/>
<line x1="205.47" y1="428.65" x2="205.47" y2="431.45" stroke="#111" stroke-width="1"/>
<line x1="208.51" y1="428.65" x2="208.51" y2="431.45" stroke="#111" stroke-width="1"/>
<line x1="211" y1="428.65" x2="211" y2="431.45" stroke="#111" stroke-width="1"/>
<line x1="213.09" y1="428.65" x2="213.09" y2="431.45" stroke="#111" stroke-width="1"/>
<line x1="214.91" y1="428.65" x2="214.91" y2="431.45" stroke="#111" stroke-width="1"/>
<line x1="216.52" y1="428.65" x2="216.52" y2="431.45" stroke="#111" stroke-width="1"/>
<line x1="217.95" y1="428.65" x2="217.95" y2="432.95" stroke="#111" stroke-width="1.15"/>
<text x="218.85" y="447.65" font-size="11" fill="#1a1a1a" text-anchor="middle"><tspan textLength="10.4" lengthAdjust="spacingAndGlyphs">10</tspan><tspan font-size="7.4" dy="-4.6" dx="0.3">5</tspan></text>
<text x="101.98" y="467.5" font-size="13.8" fill="#1a1a1a" textLength="79.91" lengthAdjust="spacingAndGlyphs">[Ligand] (nM)</text>
<text transform="translate(22.8 393.87) rotate(-90)" font-size="13.8" fill="#1a1a1a" textLength="91.1" lengthAdjust="spacingAndGlyphs">Fraction bound</text>
<line x1="65.5" y1="406.4" x2="217.5" y2="406.4" stroke="#222" stroke-width="1.1" stroke-dasharray="1.3 1.9"/>
<text x="78.53" y="281.2" font-size="10.8" fill="#1a1a1a" textLength="28.4" lengthAdjust="spacingAndGlyphs">TPO +</text>
<line x1="65" y1="289.2" x2="118.2" y2="289.2" stroke="#222" stroke-width="1.1" stroke-dasharray="1.3 1.9"/>
<line x1="69.1" y1="300.1" x2="85.8" y2="300.1" stroke="#b2281f" stroke-width="1.6"/>
<text x="89.53" y="303.15" font-size="10.8" fill="#1a1a1a" textLength="20.95" lengthAdjust="spacingAndGlyphs">IFNγ</text>
<line x1="69.1" y1="317" x2="85.8" y2="317" stroke="#4caa4c" stroke-width="1.6"/>
<text x="90.06" y="320.05" font-size="10.8" fill="#1a1a1a" textLength="17.24" lengthAdjust="spacingAndGlyphs">SCF</text>
<line x1="69.1" y1="334" x2="85.8" y2="334" stroke="#93429b" stroke-width="1.6"/>
<text x="89.6" y="337.05" font-size="10.8" fill="#1a1a1a" textLength="22.99" lengthAdjust="spacingAndGlyphs">Flt3L</text>
<path d="M77.35 297.29L79.95 301.97L74.75 301.97Z" fill="#000"/>
<circle cx="77.3" cy="317" r="2.5" fill="none" stroke="#000" stroke-width="1.1"/>
<rect x="74.8" y="331.5" width="5" height="5" fill="none" stroke="#000" stroke-width="1.1"/>
<line x1="85.83" y1="407.52" x2="85.83" y2="411.55" stroke="#222" stroke-width="0.9"/>
<line x1="85.83" y1="417.35" x2="85.83" y2="421.37" stroke="#222" stroke-width="0.9"/>
<line x1="83.53" y1="407.52" x2="88.13" y2="407.52" stroke="#222" stroke-width="1"/>
<line x1="83.53" y1="421.37" x2="88.13" y2="421.37" stroke="#222" stroke-width="1"/>
<line x1="170.76" y1="406.4" x2="170.76" y2="408.75" stroke="#222" stroke-width="0.9"/>
<line x1="170.76" y1="414.55" x2="170.76" y2="416.9" stroke="#222" stroke-width="0.9"/>
<line x1="168.46" y1="406.4" x2="173.06" y2="406.4" stroke="#222" stroke-width="1"/>
<line x1="168.46" y1="416.9" x2="173.06" y2="416.9" stroke="#222" stroke-width="1"/>
<line x1="180.2" y1="386.96" x2="180.2" y2="390.76" stroke="#222" stroke-width="0.9"/>
<line x1="180.2" y1="396.56" x2="180.2" y2="400.37" stroke="#222" stroke-width="0.9"/>
<line x1="177.9" y1="386.96" x2="182.5" y2="386.96" stroke="#222" stroke-width="1"/>
<line x1="177.9" y1="400.37" x2="182.5" y2="400.37" stroke="#222" stroke-width="1"/>
<line x1="189.64" y1="385.84" x2="189.64" y2="390.76" stroke="#222" stroke-width="0.9"/>
<line x1="189.64" y1="396.56" x2="189.64" y2="401.48" stroke="#222" stroke-width="0.9"/>
<line x1="187.34" y1="385.84" x2="191.94" y2="385.84" stroke="#222" stroke-width="1"/>
<line x1="187.34" y1="401.48" x2="191.94" y2="401.48" stroke="#222" stroke-width="1"/>
<line x1="114.14" y1="400.48" x2="114.14" y2="403.26" stroke="#222" stroke-width="0.9"/>
<line x1="114.14" y1="408.86" x2="114.14" y2="411.65" stroke="#222" stroke-width="0.9"/>
<line x1="111.84" y1="400.48" x2="116.44" y2="400.48" stroke="#222" stroke-width="1"/>
<line x1="111.84" y1="411.65" x2="116.44" y2="411.65" stroke="#222" stroke-width="1"/>
<line x1="151.89" y1="402.6" x2="151.89" y2="405.39" stroke="#222" stroke-width="0.9"/>
<line x1="151.89" y1="410.99" x2="151.89" y2="413.78" stroke="#222" stroke-width="0.9"/>
<line x1="149.59" y1="402.6" x2="154.19" y2="402.6" stroke="#222" stroke-width="1"/>
<line x1="149.59" y1="413.78" x2="154.19" y2="413.78" stroke="#222" stroke-width="1"/>
<line x1="170.76" y1="394.22" x2="170.76" y2="397.01" stroke="#222" stroke-width="0.9"/>
<line x1="170.76" y1="402.61" x2="170.76" y2="405.39" stroke="#222" stroke-width="0.9"/>
<line x1="168.46" y1="394.22" x2="173.06" y2="394.22" stroke="#222" stroke-width="1"/>
<line x1="168.46" y1="405.39" x2="173.06" y2="405.39" stroke="#222" stroke-width="1"/>
<line x1="180.2" y1="388.97" x2="180.2" y2="394.88" stroke="#222" stroke-width="0.9"/>
<line x1="180.2" y1="400.48" x2="180.2" y2="406.4" stroke="#222" stroke-width="0.9"/>
<line x1="177.9" y1="388.97" x2="182.5" y2="388.97" stroke="#222" stroke-width="1"/>
<line x1="177.9" y1="406.4" x2="182.5" y2="406.4" stroke="#222" stroke-width="1"/>
<line x1="95.27" y1="388.18" x2="95.27" y2="403.83" stroke="#222" stroke-width="0.9"/>
<line x1="92.97" y1="388.18" x2="97.57" y2="388.18" stroke="#222" stroke-width="1"/>
<line x1="92.97" y1="403.83" x2="97.57" y2="403.83" stroke="#222" stroke-width="1"/>
<line x1="104.7" y1="399.92" x2="104.7" y2="406.62" stroke="#222" stroke-width="0.9"/>
<line x1="102.4" y1="399.92" x2="107" y2="399.92" stroke="#222" stroke-width="1"/>
<line x1="102.4" y1="406.62" x2="107" y2="406.62" stroke="#222" stroke-width="1"/>
<line x1="123.58" y1="380.47" x2="123.58" y2="394.33" stroke="#222" stroke-width="0.9"/>
<line x1="121.28" y1="380.47" x2="125.88" y2="380.47" stroke="#222" stroke-width="1"/>
<line x1="121.28" y1="394.33" x2="125.88" y2="394.33" stroke="#222" stroke-width="1"/>
<line x1="133.01" y1="359.8" x2="133.01" y2="385.95" stroke="#222" stroke-width="0.9"/>
<line x1="130.71" y1="359.8" x2="135.31" y2="359.8" stroke="#222" stroke-width="1"/>
<line x1="130.71" y1="385.95" x2="135.31" y2="385.95" stroke="#222" stroke-width="1"/>
<line x1="142.45" y1="336.67" x2="142.45" y2="367.96" stroke="#222" stroke-width="0.9"/>
<line x1="140.15" y1="336.67" x2="144.75" y2="336.67" stroke="#222" stroke-width="1"/>
<line x1="140.15" y1="367.96" x2="144.75" y2="367.96" stroke="#222" stroke-width="1"/>
<line x1="151.89" y1="299.12" x2="151.89" y2="320.13" stroke="#222" stroke-width="0.9"/>
<line x1="149.59" y1="299.12" x2="154.19" y2="299.12" stroke="#222" stroke-width="1"/>
<line x1="149.59" y1="320.13" x2="154.19" y2="320.13" stroke="#222" stroke-width="1"/>
<line x1="161.33" y1="292.41" x2="161.33" y2="316.33" stroke="#222" stroke-width="0.9"/>
<line x1="159.03" y1="292.41" x2="163.63" y2="292.41" stroke="#222" stroke-width="1"/>
<line x1="159.03" y1="316.33" x2="163.63" y2="316.33" stroke="#222" stroke-width="1"/>
<line x1="170.76" y1="299.12" x2="170.76" y2="311.86" stroke="#222" stroke-width="0.9"/>
<line x1="168.46" y1="299.12" x2="173.06" y2="299.12" stroke="#222" stroke-width="1"/>
<line x1="168.46" y1="311.86" x2="173.06" y2="311.86" stroke="#222" stroke-width="1"/>
<line x1="180.2" y1="301.69" x2="180.2" y2="308.4" stroke="#222" stroke-width="0.9"/>
<line x1="177.9" y1="301.69" x2="182.5" y2="301.69" stroke="#222" stroke-width="1"/>
<line x1="177.9" y1="308.4" x2="182.5" y2="308.4" stroke="#222" stroke-width="1"/>
<line x1="189.64" y1="284.82" x2="189.64" y2="298.23" stroke="#222" stroke-width="0.9"/>
<line x1="187.34" y1="284.82" x2="191.94" y2="284.82" stroke="#222" stroke-width="1"/>
<line x1="187.34" y1="298.23" x2="191.94" y2="298.23" stroke="#222" stroke-width="1"/>
<circle cx="66.95" cy="406.96" r="2.2" fill="none" stroke="#000" stroke-width="1.1"/>
<circle cx="76.39" cy="403.72" r="2.2" fill="none" stroke="#000" stroke-width="1.1"/>
<circle cx="85.83" cy="408.41" r="2.2" fill="none" stroke="#000" stroke-width="1.1"/>
<circle cx="95.27" cy="408.41" r="2.2" fill="none" stroke="#000" stroke-width="1.1"/>
<circle cx="104.7" cy="407.52" r="2.2" fill="none" stroke="#000" stroke-width="1.1"/>
<circle cx="114.14" cy="406.06" r="2.2" fill="none" stroke="#000" stroke-width="1.1"/>
<circle cx="123.58" cy="401.93" r="2.2" fill="none" stroke="#000" stroke-width="1.1"/>
<circle cx="133.01" cy="408.19" r="2.2" fill="none" stroke="#000" stroke-width="1.1"/>
<circle cx="142.45" cy="408.86" r="2.2" fill="none" stroke="#000" stroke-width="1.1"/>
<circle cx="151.89" cy="408.19" r="2.2" fill="none" stroke="#000" stroke-width="1.1"/>
<circle cx="161.33" cy="404.61" r="2.2" fill="none" stroke="#000" stroke-width="1.1"/>
<circle cx="170.76" cy="399.81" r="2.2" fill="none" stroke="#000" stroke-width="1.1"/>
<circle cx="180.2" cy="397.68" r="2.2" fill="none" stroke="#000" stroke-width="1.1"/>
<circle cx="189.64" cy="405.95" r="2.2" fill="none" stroke="#000" stroke-width="1.1"/>
<rect x="64.65" y="406.11" width="4.6" height="4.6" fill="none" stroke="#000" stroke-width="1.1"/>
<rect x="74.09" y="401.42" width="4.6" height="4.6" fill="none" stroke="#000" stroke-width="1.1"/>
<rect x="83.53" y="412.15" width="4.6" height="4.6" fill="none" stroke="#000" stroke-width="1.1"/>
<rect x="92.97" y="408.35" width="4.6" height="4.6" fill="none" stroke="#000" stroke-width="1.1"/>
<rect x="102.4" y="408.01" width="4.6" height="4.6" fill="none" stroke="#000" stroke-width="1.1"/>
<rect x="111.84" y="403.32" width="4.6" height="4.6" fill="none" stroke="#000" stroke-width="1.1"/>
<rect x="121.28" y="401.31" width="4.6" height="4.6" fill="none" stroke="#000" stroke-width="1.1"/>
<rect x="130.71" y="401.86" width="4.6" height="4.6" fill="none" stroke="#000" stroke-width="1.1"/>
<rect x="140.15" y="400.19" width="4.6" height="4.6" fill="none" stroke="#000" stroke-width="1.1"/>
<rect x="149.59" y="405.89" width="4.6" height="4.6" fill="none" stroke="#000" stroke-width="1.1"/>
<rect x="159.03" y="395.38" width="4.6" height="4.6" fill="none" stroke="#000" stroke-width="1.1"/>
<rect x="168.46" y="409.35" width="4.6" height="4.6" fill="none" stroke="#000" stroke-width="1.1"/>
<rect x="177.9" y="391.36" width="4.6" height="4.6" fill="none" stroke="#000" stroke-width="1.1"/>
<rect x="187.34" y="391.36" width="4.6" height="4.6" fill="none" stroke="#000" stroke-width="1.1"/>
<path d="M61.2,406.4 L62.43,406.4 L63.66,406.4 L64.88,406.4 L66.11,406.4 L67.34,406.4 L68.57,406.39 L69.79,406.39 L71.02,406.39 L72.25,406.39 L73.48,406.39 L74.7,406.39 L75.93,406.39 L77.16,406.39 L78.39,406.39 L79.61,406.39 L80.84,406.39 L82.07,406.39 L83.3,406.39 L84.52,406.38 L85.75,406.38 L86.98,406.38 L88.21,406.38 L89.43,406.38 L90.66,406.38 L91.89,406.37 L93.12,406.37 L94.35,406.37 L95.57,406.37 L96.8,406.36 L98.03,406.36 L99.26,406.36 L100.48,406.35 L101.71,406.35 L102.94,406.34 L104.17,406.34 L105.39,406.33 L106.62,406.33 L107.85,406.32 L109.08,406.31 L110.3,406.3 L111.53,406.3 L112.76,406.29 L113.99,406.28 L115.21,406.26 L116.44,406.25 L117.67,406.24 L118.9,406.23 L120.13,406.21 L121.35,406.19 L122.58,406.18 L123.81,406.16 L125.04,406.13 L126.26,406.11 L127.49,406.09 L128.72,406.06 L129.95,406.03 L131.17,406 L132.4,405.96 L133.63,405.92 L134.86,405.88 L136.08,405.84 L137.31,405.79 L138.54,405.73 L139.77,405.68 L140.99,405.61 L142.22,405.54 L143.45,405.47 L144.68,405.39 L145.9,405.3 L147.13,405.21 L148.36,405.11 L149.59,405 L150.82,404.88 L152.04,404.75 L153.27,404.61 L154.5,404.46 L155.73,404.3 L156.95,404.12 L158.18,403.93 L159.41,403.73 L160.64,403.51 L161.86,403.28 L163.09,403.03 L164.32,402.75 L165.55,402.46 L166.77,402.15 L168,401.82 L169.23,401.47 L170.46,401.09 L171.68,400.69 L172.91,400.27 L174.14,399.81 L175.37,399.34 L176.59,398.83 L177.82,398.3 L179.05,397.74 L180.28,397.16 L181.51,396.55 L182.73,395.91 L183.96,395.25 L185.19,394.56 L186.42,393.85 L187.64,393.12 L188.87,392.36 L190.1,391.59 L191.33,390.8 L192.55,390 L193.78,389.19 L195.01,388.37 L196.24,387.54 L197.46,386.71 L198.69,385.89 L199.92,385.06 L201.15,384.24 L202.37,383.43 L203.6,382.64 L204.83,381.85 L206.06,381.09 L207.29,380.34 L208.51,379.62" fill="none" stroke="#93429b" stroke-width="1.8"/>
<path d="M61.2,406.39 L62.43,406.39 L63.66,406.39 L64.88,406.39 L66.11,406.38 L67.34,406.38 L68.57,406.38 L69.79,406.38 L71.02,406.38 L72.25,406.38 L73.48,406.38 L74.7,406.37 L75.93,406.37 L77.16,406.37 L78.39,406.37 L79.61,406.37 L80.84,406.36 L82.07,406.36 L83.3,406.36 L84.52,406.35 L85.75,406.35 L86.98,406.35 L88.21,406.34 L89.43,406.34 L90.66,406.33 L91.89,406.33 L93.12,406.32 L94.35,406.32 L95.57,406.31 L96.8,406.31 L98.03,406.3 L99.26,406.29 L100.48,406.28 L101.71,406.28 L102.94,406.27 L104.17,406.26 L105.39,406.25 L106.62,406.23 L107.85,406.22 L109.08,406.21 L110.3,406.19 L111.53,406.18 L112.76,406.16 L113.99,406.15 L115.21,406.13 L116.44,406.11 L117.67,406.09 L118.9,406.06 L120.13,406.04 L121.35,406.01 L122.58,405.98 L123.81,405.95 L125.04,405.92 L126.26,405.89 L127.49,405.85 L128.72,405.81 L129.95,405.77 L131.17,405.73 L132.4,405.68 L133.63,405.63 L134.86,405.57 L136.08,405.52 L137.31,405.46 L138.54,405.39 L139.77,405.32 L140.99,405.25 L142.22,405.17 L143.45,405.09 L144.68,405 L145.9,404.91 L147.13,404.82 L148.36,404.71 L149.59,404.6 L150.82,404.49 L152.04,404.37 L153.27,404.25 L154.5,404.12 L155.73,403.98 L156.95,403.84 L158.18,403.69 L159.41,403.53 L160.64,403.37 L161.86,403.2 L163.09,403.03 L164.32,402.85 L165.55,402.66 L166.77,402.47 L168,402.28 L169.23,402.08 L170.46,401.87 L171.68,401.67 L172.91,401.45 L174.14,401.24 L175.37,401.02 L176.59,400.8 L177.82,400.58 L179.05,400.36 L180.28,400.14 L181.51,399.92 L182.73,399.7 L183.96,399.48 L185.19,399.26 L186.42,399.05 L187.64,398.84 L188.87,398.63 L190.1,398.42 L191.33,398.22 L192.55,398.03 L193.78,397.84 L195.01,397.65 L196.24,397.47 L197.46,397.3 L198.69,397.13 L199.92,396.97 L201.15,396.82 L202.37,396.67 L203.6,396.52 L204.83,396.39 L206.06,396.26 L207.29,396.13 L208.51,396.01" fill="none" stroke="#4caa4c" stroke-width="1.8"/>
<path d="M61.2,406.25 L62.43,406.23 L63.66,406.21 L64.88,406.19 L66.11,406.17 L67.34,406.15 L68.57,406.12 L69.79,406.09 L71.02,406.06 L72.25,406.02 L73.48,405.99 L74.7,405.94 L75.93,405.9 L77.16,405.84 L78.39,405.79 L79.61,405.72 L80.84,405.65 L82.07,405.57 L83.3,405.49 L84.52,405.39 L85.75,405.29 L86.98,405.18 L88.21,405.05 L89.43,404.91 L90.66,404.76 L91.89,404.59 L93.12,404.4 L94.35,404.2 L95.57,403.97 L96.8,403.73 L98.03,403.45 L99.26,403.16 L100.48,402.83 L101.71,402.47 L102.94,402.07 L104.17,401.64 L105.39,401.16 L106.62,400.64 L107.85,400.08 L109.08,399.46 L110.3,398.78 L111.53,398.04 L112.76,397.24 L113.99,396.36 L115.21,395.41 L116.44,394.38 L117.67,393.27 L118.9,392.06 L120.13,390.77 L121.35,389.37 L122.58,387.87 L123.81,386.27 L125.04,384.56 L126.26,382.74 L127.49,380.8 L128.72,378.75 L129.95,376.6 L131.17,374.33 L132.4,371.96 L133.63,369.49 L134.86,366.92 L136.08,364.27 L137.31,361.54 L138.54,358.74 L139.77,355.89 L140.99,353 L142.22,350.08 L143.45,347.15 L144.68,344.21 L145.9,341.29 L147.13,338.4 L148.36,335.55 L149.59,332.76 L150.82,330.03 L152.04,327.38 L153.27,324.81 L154.5,322.34 L155.73,319.97 L156.95,317.71 L158.18,315.55 L159.41,313.51 L160.64,311.58 L161.86,309.76 L163.09,308.05 L164.32,306.45 L165.55,304.95 L166.77,303.55 L168,302.26 L169.23,301.06 L170.46,299.94 L171.68,298.92 L172.91,297.97 L174.14,297.09 L175.37,296.29 L176.59,295.55 L177.82,294.88 L179.05,294.26 L180.28,293.69 L181.51,293.17 L182.73,292.7 L183.96,292.27 L185.19,291.87 L186.42,291.51 L187.64,291.18 L188.87,290.89 L190.1,290.61 L191.33,290.37 L192.55,290.14 L193.78,289.94 L195.01,289.75 L196.24,289.59 L197.46,289.43 L198.69,289.29 L199.92,289.17 L201.15,289.05 L202.37,288.95 L203.6,288.86 L204.83,288.77 L206.06,288.69 L207.29,288.62 L208.51,288.56" fill="none" stroke="#b2281f" stroke-width="2.0"/>
<path d="M85.83 409.74L88.43 414.42L83.23 414.42Z" fill="#000"/>
<path d="M95.27 393.2L97.87 397.88L92.67 397.88Z" fill="#000"/>
<path d="M104.7 400.46L107.3 405.14L102.1 405.14Z" fill="#000"/>
<path d="M114.14 401.36L116.74 406.04L111.54 406.04Z" fill="#000"/>
<path d="M123.58 384.59L126.18 389.27L120.98 389.27Z" fill="#000"/>
<path d="M133.01 370.07L135.61 374.75L130.41 374.75Z" fill="#000"/>
<path d="M142.45 349.5L145.05 354.19L139.85 354.19Z" fill="#000"/>
<path d="M151.89 306.82L154.49 311.5L149.29 311.5Z" fill="#000"/>
<path d="M161.33 301.56L163.93 306.24L158.73 306.24Z" fill="#000"/>
<path d="M170.76 302.68L173.36 307.36L168.16 307.36Z" fill="#000"/>
<path d="M180.2 302.23L182.8 306.91L177.6 306.91Z" fill="#000"/>
<path d="M189.64 288.71L192.24 293.39L187.04 293.39Z" fill="#000"/>
<text x="274.53" y="22" font-size="16.4" fill="#1a1a1a" textLength="10.26" lengthAdjust="spacingAndGlyphs">C</text>
<line x1="318.85" y1="33.6" x2="318.85" y2="194.95" stroke="#111" stroke-width="1.25"/>
<line x1="313.95" y1="38" x2="318.85" y2="38" stroke="#111" stroke-width="1.2"/>
<text x="295.6" y="41.85" font-size="11" fill="#1a1a1a" textLength="14.83" lengthAdjust="spacingAndGlyphs">1.2</text>
<line x1="313.95" y1="60.35" x2="318.85" y2="60.35" stroke="#111" stroke-width="1.2"/>
<text x="295.48" y="64.2" font-size="11" fill="#1a1a1a" textLength="14.83" lengthAdjust="spacingAndGlyphs">1.0</text>
<line x1="313.95" y1="82.7" x2="318.85" y2="82.7" stroke="#111" stroke-width="1.2"/>
<text x="295.53" y="86.55" font-size="11" fill="#1a1a1a" textLength="14.83" lengthAdjust="spacingAndGlyphs">0.8</text>
<line x1="313.95" y1="105.05" x2="318.85" y2="105.05" stroke="#111" stroke-width="1.2"/>
<text x="295.54" y="108.9" font-size="11" fill="#1a1a1a" textLength="14.83" lengthAdjust="spacingAndGlyphs">0.6</text>
<line x1="313.95" y1="127.4" x2="318.85" y2="127.4" stroke="#111" stroke-width="1.2"/>
<text x="295.38" y="131.25" font-size="11" fill="#1a1a1a" textLength="14.83" lengthAdjust="spacingAndGlyphs">0.4</text>
<line x1="313.95" y1="149.75" x2="318.85" y2="149.75" stroke="#111" stroke-width="1.2"/>
<text x="295.6" y="153.6" font-size="11" fill="#1a1a1a" textLength="14.83" lengthAdjust="spacingAndGlyphs">0.2</text>
<line x1="313.95" y1="172.1" x2="318.85" y2="172.1" stroke="#111" stroke-width="1.2"/>
<text x="295.48" y="175.95" font-size="11" fill="#1a1a1a" textLength="14.83" lengthAdjust="spacingAndGlyphs">0.0</text>
<line x1="318.4" y1="194.35" x2="479" y2="194.35" stroke="#111" stroke-width="1.25"/>
<line x1="319" y1="194.35" x2="319" y2="198.65" stroke="#111" stroke-width="1.15"/>
<text x="319.9" y="213.35" font-size="11" fill="#1a1a1a" text-anchor="middle"><tspan textLength="10.4" lengthAdjust="spacingAndGlyphs">10</tspan><tspan font-size="7.4" dy="-4.6" dx="0.3">1</tspan></text>
<line x1="330.88" y1="194.35" x2="330.88" y2="197.15" stroke="#111" stroke-width="1"/>
<line x1="337.82" y1="194.35" x2="337.82" y2="197.15" stroke="#111" stroke-width="1"/>
<line x1="342.75" y1="194.35" x2="342.75" y2="197.15" stroke="#111" stroke-width="1"/>
<line x1="346.57" y1="194.35" x2="346.57" y2="197.15" stroke="#111" stroke-width="1"/>
<line x1="349.7" y1="194.35" x2="349.7" y2="197.15" stroke="#111" stroke-width="1"/>
<line x1="352.34" y1="194.35" x2="352.34" y2="197.15" stroke="#111" stroke-width="1"/>
<line x1="354.63" y1="194.35" x2="354.63" y2="197.15" stroke="#111" stroke-width="1"/>
<line x1="356.64" y1="194.35" x2="356.64" y2="197.15" stroke="#111" stroke-width="1"/>
<line x1="358.45" y1="194.35" x2="358.45" y2="198.65" stroke="#111" stroke-width="1.15"/>
<text x="359.35" y="213.35" font-size="11" fill="#1a1a1a" text-anchor="middle"><tspan textLength="10.4" lengthAdjust="spacingAndGlyphs">10</tspan><tspan font-size="7.4" dy="-4.6" dx="0.3">2</tspan></text>
<line x1="370.33" y1="194.35" x2="370.33" y2="197.15" stroke="#111" stroke-width="1"/>
<line x1="377.27" y1="194.35" x2="377.27" y2="197.15" stroke="#111" stroke-width="1"/>
<line x1="382.2" y1="194.35" x2="382.2" y2="197.15" stroke="#111" stroke-width="1"/>
<line x1="386.02" y1="194.35" x2="386.02" y2="197.15" stroke="#111" stroke-width="1"/>
<line x1="389.15" y1="194.35" x2="389.15" y2="197.15" stroke="#111" stroke-width="1"/>
<line x1="391.79" y1="194.35" x2="391.79" y2="197.15" stroke="#111" stroke-width="1"/>
<line x1="394.08" y1="194.35" x2="394.08" y2="197.15" stroke="#111" stroke-width="1"/>
<line x1="396.09" y1="194.35" x2="396.09" y2="197.15" stroke="#111" stroke-width="1"/>
<line x1="397.9" y1="194.35" x2="397.9" y2="198.65" stroke="#111" stroke-width="1.15"/>
<text x="398.8" y="213.35" font-size="11" fill="#1a1a1a" text-anchor="middle"><tspan textLength="10.4" lengthAdjust="spacingAndGlyphs">10</tspan><tspan font-size="7.4" dy="-4.6" dx="0.3">3</tspan></text>
<line x1="409.78" y1="194.35" x2="409.78" y2="197.15" stroke="#111" stroke-width="1"/>
<line x1="416.72" y1="194.35" x2="416.72" y2="197.15" stroke="#111" stroke-width="1"/>
<line x1="421.65" y1="194.35" x2="421.65" y2="197.15" stroke="#111" stroke-width="1"/>
<line x1="425.47" y1="194.35" x2="425.47" y2="197.15" stroke="#111" stroke-width="1"/>
<line x1="428.6" y1="194.35" x2="428.6" y2="197.15" stroke="#111" stroke-width="1"/>
<line x1="431.24" y1="194.35" x2="431.24" y2="197.15" stroke="#111" stroke-width="1"/>
<line x1="433.53" y1="194.35" x2="433.53" y2="197.15" stroke="#111" stroke-width="1"/>
<line x1="435.54" y1="194.35" x2="435.54" y2="197.15" stroke="#111" stroke-width="1"/>
<line x1="437.35" y1="194.35" x2="437.35" y2="198.65" stroke="#111" stroke-width="1.15"/>
<text x="438.25" y="213.35" font-size="11" fill="#1a1a1a" text-anchor="middle"><tspan textLength="10.4" lengthAdjust="spacingAndGlyphs">10</tspan><tspan font-size="7.4" dy="-4.6" dx="0.3">4</tspan></text>
<line x1="449.23" y1="194.35" x2="449.23" y2="197.15" stroke="#111" stroke-width="1"/>
<line x1="456.17" y1="194.35" x2="456.17" y2="197.15" stroke="#111" stroke-width="1"/>
<line x1="461.1" y1="194.35" x2="461.1" y2="197.15" stroke="#111" stroke-width="1"/>
<line x1="464.92" y1="194.35" x2="464.92" y2="197.15" stroke="#111" stroke-width="1"/>
<line x1="468.05" y1="194.35" x2="468.05" y2="197.15" stroke="#111" stroke-width="1"/>
<line x1="470.69" y1="194.35" x2="470.69" y2="197.15" stroke="#111" stroke-width="1"/>
<line x1="472.98" y1="194.35" x2="472.98" y2="197.15" stroke="#111" stroke-width="1"/>
<line x1="474.99" y1="194.35" x2="474.99" y2="197.15" stroke="#111" stroke-width="1"/>
<line x1="476.8" y1="194.35" x2="476.8" y2="198.65" stroke="#111" stroke-width="1.15"/>
<text x="477.7" y="213.35" font-size="11" fill="#1a1a1a" text-anchor="middle"><tspan textLength="10.4" lengthAdjust="spacingAndGlyphs">10</tspan><tspan font-size="7.4" dy="-4.6" dx="0.3">5</tspan></text>
<text x="340.47" y="233.4" font-size="13.8" fill="#1a1a1a" textLength="118.14" lengthAdjust="spacingAndGlyphs">[Eltrombopag] (nM)</text>
<text transform="translate(284.8 159.57) rotate(-90)" font-size="13.8" fill="#1a1a1a" textLength="91.1" lengthAdjust="spacingAndGlyphs">Fraction bound</text>
<line x1="323.5" y1="172.1" x2="474" y2="172.1" stroke="#222" stroke-width="1.1" stroke-dasharray="1.3 1.9"/>
<text x="355.53" y="48.8" font-size="10.8" fill="#1a1a1a" textLength="29.72" lengthAdjust="spacingAndGlyphs">IFNγ +</text>
<line x1="323.5" y1="56.25" x2="418.5" y2="56.25" stroke="#222" stroke-width="1.1" stroke-dasharray="1.3 1.9"/>
<line x1="345.8" y1="168.19" x2="345.8" y2="173.11" stroke="#222" stroke-width="0.9"/>
<line x1="343.5" y1="168.19" x2="348.1" y2="168.19" stroke="#222" stroke-width="1"/>
<line x1="343.5" y1="173.11" x2="348.1" y2="173.11" stroke="#222" stroke-width="1"/>
<line x1="369.32" y1="170.98" x2="369.32" y2="184.39" stroke="#222" stroke-width="0.9"/>
<line x1="367.02" y1="170.98" x2="371.62" y2="170.98" stroke="#222" stroke-width="1"/>
<line x1="367.02" y1="184.39" x2="371.62" y2="184.39" stroke="#222" stroke-width="1"/>
<line x1="381.08" y1="167.74" x2="381.08" y2="172.66" stroke="#222" stroke-width="0.9"/>
<line x1="378.78" y1="167.74" x2="383.38" y2="167.74" stroke="#222" stroke-width="1"/>
<line x1="378.78" y1="172.66" x2="383.38" y2="172.66" stroke="#222" stroke-width="1"/>
<line x1="451.64" y1="164.28" x2="451.64" y2="173.22" stroke="#222" stroke-width="0.9"/>
<line x1="449.34" y1="164.28" x2="453.94" y2="164.28" stroke="#222" stroke-width="1"/>
<line x1="449.34" y1="173.22" x2="453.94" y2="173.22" stroke="#222" stroke-width="1"/>
<path d="M343.63,172.21 L344.63,172.21 L345.63,172.21 L346.63,172.21 L347.62,172.21 L348.62,172.21 L349.62,172.21 L350.62,172.21 L351.62,172.21 L352.61,172.21 L353.61,172.21 L354.61,172.21 L355.61,172.21 L356.61,172.21 L357.6,172.21 L358.6,172.21 L359.6,172.21 L360.6,172.21 L361.6,172.2 L362.59,172.2 L363.59,172.2 L364.59,172.2 L365.59,172.2 L366.59,172.2 L367.58,172.2 L368.58,172.2 L369.58,172.2 L370.58,172.2 L371.58,172.2 L372.58,172.2 L373.57,172.2 L374.57,172.2 L375.57,172.2 L376.57,172.2 L377.57,172.19 L378.56,172.19 L379.56,172.19 L380.56,172.19 L381.56,172.19 L382.56,172.19 L383.55,172.19 L384.55,172.18 L385.55,172.18 L386.55,172.18 L387.55,172.18 L388.54,172.18 L389.54,172.18 L390.54,172.17 L391.54,172.17 L392.54,172.17 L393.53,172.17 L394.53,172.16 L395.53,172.16 L396.53,172.16 L397.53,172.15 L398.53,172.15 L399.52,172.15 L400.52,172.14 L401.52,172.14 L402.52,172.13 L403.52,172.13 L404.51,172.13 L405.51,172.12 L406.51,172.11 L407.51,172.11 L408.51,172.1 L409.5,172.1 L410.5,172.09 L411.5,172.08 L412.5,172.07 L413.5,172.07 L414.49,172.06 L415.49,172.05 L416.49,172.04 L417.49,172.03 L418.49,172.02 L419.48,172 L420.48,171.99 L421.48,171.98 L422.48,171.96 L423.48,171.95 L424.48,171.93 L425.47,171.92 L426.47,171.9 L427.47,171.88 L428.47,171.86 L429.47,171.84 L430.46,171.82 L431.46,171.79 L432.46,171.77 L433.46,171.74 L434.46,171.72 L435.45,171.69 L436.45,171.66 L437.45,171.62 L438.45,171.59 L439.45,171.55 L440.44,171.51 L441.44,171.47 L442.44,171.43 L443.44,171.38 L444.44,171.33 L445.43,171.28 L446.43,171.23 L447.43,171.17 L448.43,171.11 L449.43,171.05 L450.43,170.98 L451.42,170.91 L452.42,170.84 L453.42,170.76 L454.42,170.68 L455.42,170.59 L456.41,170.5 L457.41,170.41 L458.41,170.31 L459.41,170.2 L460.41,170.09 L461.4,169.98 L462.4,169.86 L463.4,169.73" fill="none" stroke="#5e90d2" stroke-width="2.0"/>
<path d="M345.8 167.95L348.3 172.45L343.3 172.45Z" fill="#000"/>
<path d="M357.56 169.4L360.06 173.9L355.06 173.9Z" fill="#000"/>
<path d="M369.32 174.99L371.82 179.49L366.82 179.49Z" fill="#000"/>
<path d="M381.08 167.5L383.58 172L378.58 172Z" fill="#000"/>
<path d="M392.84 168.95L395.34 173.45L390.34 173.45Z" fill="#000"/>
<path d="M404.6 169.96L407.1 174.46L402.1 174.46Z" fill="#000"/>
<path d="M416.36 169.29L418.86 173.79L413.86 173.79Z" fill="#000"/>
<path d="M428.12 170.74L430.62 175.24L425.62 175.24Z" fill="#000"/>
<path d="M439.88 172.42L442.38 176.92L437.38 176.92Z" fill="#000"/>
<path d="M451.64 166.05L454.14 170.55L449.14 170.55Z" fill="#000"/>
<path d="M463.4 166.72L465.9 171.22L460.9 171.22Z" fill="#000"/>
<text x="272.34" y="256.6" font-size="16.4" fill="#1a1a1a" textLength="12.44" lengthAdjust="spacingAndGlyphs">D</text>
<line x1="318.8" y1="267.4" x2="318.8" y2="429.4" stroke="#111" stroke-width="1.25"/>
<line x1="314.2" y1="428.8" x2="318.8" y2="428.8" stroke="#111" stroke-width="1.2"/>
<text x="295.28" y="432.65" font-size="11" fill="#1a1a1a" textLength="14.83" lengthAdjust="spacingAndGlyphs">0.0</text>
<line x1="316.2" y1="415.74" x2="318.8" y2="415.74" stroke="#111" stroke-width="1.1"/>
<line x1="314.2" y1="402.68" x2="318.8" y2="402.68" stroke="#111" stroke-width="1.2"/>
<text x="295.4" y="406.53" font-size="11" fill="#1a1a1a" textLength="14.83" lengthAdjust="spacingAndGlyphs">0.2</text>
<line x1="316.2" y1="389.62" x2="318.8" y2="389.62" stroke="#111" stroke-width="1.1"/>
<line x1="314.2" y1="376.56" x2="318.8" y2="376.56" stroke="#111" stroke-width="1.2"/>
<text x="295.18" y="380.41" font-size="11" fill="#1a1a1a" textLength="14.83" lengthAdjust="spacingAndGlyphs">0.4</text>
<line x1="316.2" y1="363.5" x2="318.8" y2="363.5" stroke="#111" stroke-width="1.1"/>
<line x1="314.2" y1="350.44" x2="318.8" y2="350.44" stroke="#111" stroke-width="1.2"/>
<text x="295.34" y="354.29" font-size="11" fill="#1a1a1a" textLength="14.83" lengthAdjust="spacingAndGlyphs">0.6</text>
<line x1="316.2" y1="337.38" x2="318.8" y2="337.38" stroke="#111" stroke-width="1.1"/>
<line x1="314.2" y1="324.32" x2="318.8" y2="324.32" stroke="#111" stroke-width="1.2"/>
<text x="295.33" y="328.17" font-size="11" fill="#1a1a1a" textLength="14.83" lengthAdjust="spacingAndGlyphs">0.8</text>
<line x1="316.2" y1="311.26" x2="318.8" y2="311.26" stroke="#111" stroke-width="1.1"/>
<line x1="314.2" y1="298.2" x2="318.8" y2="298.2" stroke="#111" stroke-width="1.2"/>
<text x="295.28" y="302.05" font-size="11" fill="#1a1a1a" textLength="14.83" lengthAdjust="spacingAndGlyphs">1.0</text>
<line x1="316.2" y1="285.14" x2="318.8" y2="285.14" stroke="#111" stroke-width="1.1"/>
<line x1="314.2" y1="272.08" x2="318.8" y2="272.08" stroke="#111" stroke-width="1.2"/>
<text x="295.4" y="275.93" font-size="11" fill="#1a1a1a" textLength="14.83" lengthAdjust="spacingAndGlyphs">1.2</text>
<line x1="318.2" y1="428.8" x2="475.6" y2="428.8" stroke="#111" stroke-width="1.25"/>
<rect x="328.5" y="421.75" width="20" height="7.05" fill="#1c1c1c"/>
<line x1="338.5" y1="420.96" x2="338.5" y2="421.75" stroke="#111" stroke-width="1"/>
<line x1="333.9" y1="420.96" x2="343.1" y2="420.96" stroke="#111" stroke-width="1.3"/>
<line x1="338.5" y1="428.8" x2="338.5" y2="433.2" stroke="#111" stroke-width="1.15"/>
<rect x="357.9" y="298.2" width="20" height="130.6" fill="#c49668"/>
<line x1="367.9" y1="297.16" x2="367.9" y2="298.2" stroke="#111" stroke-width="1"/>
<line x1="363.3" y1="297.16" x2="372.5" y2="297.16" stroke="#111" stroke-width="1.3"/>
<line x1="367.9" y1="428.8" x2="367.9" y2="433.2" stroke="#111" stroke-width="1.15"/>
<rect x="387.4" y="296.76" width="20" height="132.04" fill="#bed0e4"/>
<line x1="397.4" y1="295.98" x2="397.4" y2="296.76" stroke="#111" stroke-width="1"/>
<line x1="392.8" y1="295.98" x2="402" y2="295.98" stroke="#111" stroke-width="1.3"/>
<line x1="397.4" y1="428.8" x2="397.4" y2="433.2" stroke="#111" stroke-width="1.15"/>
<rect x="416.8" y="305.77" width="20" height="123.03" fill="#93b3d8"/>
<line x1="426.8" y1="304.21" x2="426.8" y2="305.77" stroke="#111" stroke-width="1"/>
<line x1="422.2" y1="304.21" x2="431.4" y2="304.21" stroke="#111" stroke-width="1.3"/>
<line x1="426.8" y1="428.8" x2="426.8" y2="433.2" stroke="#111" stroke-width="1.15"/>
<rect x="446" y="299.51" width="20" height="129.29" fill="#6896c7"/>
<line x1="456" y1="298.72" x2="456" y2="299.51" stroke="#111" stroke-width="1"/>
<line x1="451.4" y1="298.72" x2="460.6" y2="298.72" stroke="#111" stroke-width="1.3"/>
<line x1="456" y1="428.8" x2="456" y2="433.2" stroke="#111" stroke-width="1.15"/>
<text x="335.17" y="447.8" font-size="11" fill="#1a1a1a" textLength="7.14" lengthAdjust="spacingAndGlyphs">B</text>
<text x="364.79" y="447.8" font-size="11" fill="#1a1a1a" textLength="6.15" lengthAdjust="spacingAndGlyphs">E</text>
<text x="389.85" y="447.8" font-size="11" fill="#1a1a1a" textLength="14.2" lengthAdjust="spacingAndGlyphs">0.1</text>
<text x="419.56" y="447.8" font-size="11" fill="#1a1a1a" textLength="14.02" lengthAdjust="spacingAndGlyphs">0.5</text>
<text x="453.1" y="447.8" font-size="11" fill="#1a1a1a" textLength="4.77" lengthAdjust="spacingAndGlyphs">1</text>
<line x1="383.4" y1="455.5" x2="465.1" y2="455.5" stroke="#111" stroke-width="1.15"/>
<text x="384.3" y="472.9" font-size="13.8" fill="#1a1a1a" textLength="79.35" lengthAdjust="spacingAndGlyphs">Eltrombopag</text>
<text x="385.5" y="489" font-size="13.8" fill="#1a1a1a" textLength="78.07" lengthAdjust="spacingAndGlyphs">+ [IFNγ] (μM)</text>
<text transform="translate(284.8 427.83) rotate(-90)" font-size="13.8" fill="#1a1a1a" textLength="159.89" lengthAdjust="spacingAndGlyphs">Relative fluorescence (a.u.)</text>
<text x="15.61" y="518" font-size="15.6" fill="#1a1a1a" textLength="7.63" lengthAdjust="spacingAndGlyphs">E</text>
<rect x="62.65" y="510.65" width="134.85" height="19.5" fill="#dad7d7" stroke="#222" stroke-width="1.35"/>
<rect x="63.95" y="511.95" width="132.25" height="16.9" fill="none" stroke="#f3f1f1" stroke-width="0.9"/>
<text x="77.61" y="524.6" font-size="11.6" fill="#1a1a1a" textLength="104.59" lengthAdjust="spacingAndGlyphs">Thrombopoietin (TPO)</text>
<rect x="320.65" y="510.65" width="134.65" height="19.5" fill="#dad7d7" stroke="#222" stroke-width="1.35"/>
<rect x="321.95" y="511.95" width="132.05" height="16.9" fill="none" stroke="#f3f1f1" stroke-width="0.9"/>
<text x="357.16" y="524.7" font-size="11.6" fill="#1a1a1a" textLength="61.59" lengthAdjust="spacingAndGlyphs">Eltrombopag</text>
<path d="M56.4 583.1C54.8 583.1 54.73 583.02 51.6 583.1C48.47 583.18 41.27 583.27 37.6 583.6C33.93 583.93 31.93 584.43 29.6 585.1C27.27 585.77 25.43 586.45 23.6 587.6C21.77 588.75 20.02 590.43 18.6 592C17.18 593.57 16.08 595.17 15.1 597C14.12 598.83 13.27 600.83 12.7 603C12.13 605.17 11.9 607.5 11.7 610C11.5 612.5 11.48 615.67 11.5 618C11.52 620.33 11.5 622.17 11.8 624C12.1 625.83 12.63 627.5 13.3 629C13.97 630.5 14.72 631.75 15.8 633C16.88 634.25 18.17 635.42 19.8 636.5C21.43 637.58 23.3 638.58 25.6 639.5C27.9 640.42 30.77 641.13 33.6 642C36.43 642.87 39.63 644.03 42.6 644.7C45.57 645.37 49.1 645.75 51.4 646C53.7 646.25 54.73 646.2 56.4 646.2C58.07 646.2 59.1 646.25 61.4 646C63.7 645.75 67.23 645.37 70.2 644.7C73.17 644.03 76.37 642.87 79.2 642C82.03 641.13 84.9 640.42 87.2 639.5C89.5 638.58 91.37 637.58 93 636.5C94.63 635.42 95.92 634.25 97 633C98.08 631.75 98.83 630.5 99.5 629C100.17 627.5 100.7 625.83 101 624C101.3 622.17 101.28 620.33 101.3 618C101.32 615.67 101.3 612.5 101.1 610C100.9 607.5 100.67 605.17 100.1 603C99.53 600.83 98.68 598.83 97.7 597C96.72 595.17 95.62 593.57 94.2 592C92.78 590.43 91.03 588.75 89.2 587.6C87.37 586.45 85.53 585.77 83.2 585.1C80.87 584.43 78.87 583.93 75.2 583.6C71.53 583.27 64.33 583.18 61.2 583.1C58.07 583.02 58 583.1 56.4 583.1Z" fill="url(#gOuter)" stroke="#808080" stroke-width="0.7"/>
<path d="M56.4 585.6C54.8 585.6 54.73 585.45 51.6 585.7C48.47 585.95 41.27 586.52 37.6 587.1C33.93 587.68 32.07 588.05 29.6 589.2C27.13 590.35 24.57 592.2 22.8 594C21.03 595.8 19.83 597.67 19 600C18.17 602.33 18 605.17 17.8 608C17.6 610.83 17.58 614.17 17.8 617C18.02 619.83 18.3 622.67 19.1 625C19.9 627.33 21.18 629.33 22.6 631C24.02 632.67 25.43 633.72 27.6 635C29.77 636.28 32.6 637.62 35.6 638.7C38.6 639.78 42.13 640.95 45.6 641.5C49.07 642.05 52.8 642 56.4 642C60 642 63.73 642.05 67.2 641.5C70.67 640.95 74.2 639.78 77.2 638.7C80.2 637.62 83.03 636.28 85.2 635C87.37 633.72 88.78 632.67 90.2 631C91.62 629.33 92.9 627.33 93.7 625C94.5 622.67 94.78 619.83 95 617C95.22 614.17 95.2 610.83 95 608C94.8 605.17 94.63 602.33 93.8 600C92.97 597.67 91.77 595.8 90 594C88.23 592.2 85.67 590.35 83.2 589.2C80.73 588.05 78.87 587.68 75.2 587.1C71.53 586.52 64.33 585.95 61.2 585.7C58.07 585.45 58 585.6 56.4 585.6Z" fill="url(#gInner)" stroke="#7e7a7a" stroke-width="0.8"/>
<ellipse cx="56.4" cy="609.5" rx="22.5" ry="9" fill="#bcbaba" filter="url(#fBlur)" opacity="0.85"/>
<ellipse cx="56.4" cy="609.5" rx="22" ry="8.6" fill="#000" filter="url(#fChrom)" opacity="0.8"/>
<text x="34.67" y="627" font-size="11" fill="#1a1a1a" textLength="43.77" lengthAdjust="spacingAndGlyphs">Signaling</text>
<path d="M201.6 583.1C200 583.1 199.93 583.02 196.8 583.1C193.67 583.18 186.47 583.27 182.8 583.6C179.13 583.93 177.13 584.43 174.8 585.1C172.47 585.77 170.63 586.45 168.8 587.6C166.97 588.75 165.22 590.43 163.8 592C162.38 593.57 161.28 595.17 160.3 597C159.32 598.83 158.47 600.83 157.9 603C157.33 605.17 157.1 607.5 156.9 610C156.7 612.5 156.68 615.67 156.7 618C156.72 620.33 156.7 622.17 157 624C157.3 625.83 157.83 627.5 158.5 629C159.17 630.5 159.92 631.75 161 633C162.08 634.25 163.37 635.42 165 636.5C166.63 637.58 168.5 638.58 170.8 639.5C173.1 640.42 175.97 641.13 178.8 642C181.63 642.87 184.83 644.03 187.8 644.7C190.77 645.37 194.3 645.75 196.6 646C198.9 646.25 199.93 646.2 201.6 646.2C203.27 646.2 204.3 646.25 206.6 646C208.9 645.75 212.43 645.37 215.4 644.7C218.37 644.03 221.57 642.87 224.4 642C227.23 641.13 230.1 640.42 232.4 639.5C234.7 638.58 236.57 637.58 238.2 636.5C239.83 635.42 241.12 634.25 242.2 633C243.28 631.75 244.03 630.5 244.7 629C245.37 627.5 245.9 625.83 246.2 624C246.5 622.17 246.48 620.33 246.5 618C246.52 615.67 246.5 612.5 246.3 610C246.1 607.5 245.87 605.17 245.3 603C244.73 600.83 243.88 598.83 242.9 597C241.92 595.17 240.82 593.57 239.4 592C237.98 590.43 236.23 588.75 234.4 587.6C232.57 586.45 230.73 585.77 228.4 585.1C226.07 584.43 224.07 583.93 220.4 583.6C216.73 583.27 209.53 583.18 206.4 583.1C203.27 583.02 203.2 583.1 201.6 583.1Z" fill="url(#gOuter)" stroke="#808080" stroke-width="0.7"/>
<path d="M201.6 585.6C200 585.6 199.93 585.45 196.8 585.7C193.67 585.95 186.47 586.52 182.8 587.1C179.13 587.68 177.27 588.05 174.8 589.2C172.33 590.35 169.77 592.2 168 594C166.23 595.8 165.03 597.67 164.2 600C163.37 602.33 163.2 605.17 163 608C162.8 610.83 162.78 614.17 163 617C163.22 619.83 163.5 622.67 164.3 625C165.1 627.33 166.38 629.33 167.8 631C169.22 632.67 170.63 633.72 172.8 635C174.97 636.28 177.8 637.62 180.8 638.7C183.8 639.78 187.33 640.95 190.8 641.5C194.27 642.05 198 642 201.6 642C205.2 642 208.93 642.05 212.4 641.5C215.87 640.95 219.4 639.78 222.4 638.7C225.4 637.62 228.23 636.28 230.4 635C232.57 633.72 233.98 632.67 235.4 631C236.82 629.33 238.1 627.33 238.9 625C239.7 622.67 239.98 619.83 240.2 617C240.42 614.17 240.4 610.83 240.2 608C240 605.17 239.83 602.33 239 600C238.17 597.67 236.97 595.8 235.2 594C233.43 592.2 230.87 590.35 228.4 589.2C225.93 588.05 224.07 587.68 220.4 587.1C216.73 586.52 209.53 585.95 206.4 585.7C203.27 585.45 203.2 585.6 201.6 585.6Z" fill="url(#gInner)" stroke="#7e7a7a" stroke-width="0.8"/>
<ellipse cx="201.6" cy="609.5" rx="22.5" ry="9" fill="#bcbaba" filter="url(#fBlur)" opacity="0.85"/>
<ellipse cx="201.6" cy="609.5" rx="22" ry="8.6" fill="#000" filter="url(#fChrom)" opacity="0.8"/>
<text x="179.37" y="627" font-size="11" fill="#1a1a1a" textLength="43.77" lengthAdjust="spacingAndGlyphs">Signaling</text>
<path d="M316.8 583.1C315.2 583.1 315.13 583.02 312 583.1C308.87 583.18 301.67 583.27 298 583.6C294.33 583.93 292.33 584.43 290 585.1C287.67 585.77 285.83 586.45 284 587.6C282.17 588.75 280.42 590.43 279 592C277.58 593.57 276.48 595.17 275.5 597C274.52 598.83 273.67 600.83 273.1 603C272.53 605.17 272.3 607.5 272.1 610C271.9 612.5 271.88 615.67 271.9 618C271.92 620.33 271.9 622.17 272.2 624C272.5 625.83 273.03 627.5 273.7 629C274.37 630.5 275.12 631.75 276.2 633C277.28 634.25 278.57 635.42 280.2 636.5C281.83 637.58 283.7 638.58 286 639.5C288.3 640.42 291.17 641.13 294 642C296.83 642.87 300.03 644.03 303 644.7C305.97 645.37 309.5 645.75 311.8 646C314.1 646.25 315.13 646.2 316.8 646.2C318.47 646.2 319.5 646.25 321.8 646C324.1 645.75 327.63 645.37 330.6 644.7C333.57 644.03 336.77 642.87 339.6 642C342.43 641.13 345.3 640.42 347.6 639.5C349.9 638.58 351.77 637.58 353.4 636.5C355.03 635.42 356.32 634.25 357.4 633C358.48 631.75 359.23 630.5 359.9 629C360.57 627.5 361.1 625.83 361.4 624C361.7 622.17 361.68 620.33 361.7 618C361.72 615.67 361.7 612.5 361.5 610C361.3 607.5 361.07 605.17 360.5 603C359.93 600.83 359.08 598.83 358.1 597C357.12 595.17 356.02 593.57 354.6 592C353.18 590.43 351.43 588.75 349.6 587.6C347.77 586.45 345.93 585.77 343.6 585.1C341.27 584.43 339.27 583.93 335.6 583.6C331.93 583.27 324.73 583.18 321.6 583.1C318.47 583.02 318.4 583.1 316.8 583.1Z" fill="url(#gOuter)" stroke="#808080" stroke-width="0.7"/>
<path d="M316.8 585.6C315.2 585.6 315.13 585.45 312 585.7C308.87 585.95 301.67 586.52 298 587.1C294.33 587.68 292.47 588.05 290 589.2C287.53 590.35 284.97 592.2 283.2 594C281.43 595.8 280.23 597.67 279.4 600C278.57 602.33 278.4 605.17 278.2 608C278 610.83 277.98 614.17 278.2 617C278.42 619.83 278.7 622.67 279.5 625C280.3 627.33 281.58 629.33 283 631C284.42 632.67 285.83 633.72 288 635C290.17 636.28 293 637.62 296 638.7C299 639.78 302.53 640.95 306 641.5C309.47 642.05 313.2 642 316.8 642C320.4 642 324.13 642.05 327.6 641.5C331.07 640.95 334.6 639.78 337.6 638.7C340.6 637.62 343.43 636.28 345.6 635C347.77 633.72 349.18 632.67 350.6 631C352.02 629.33 353.3 627.33 354.1 625C354.9 622.67 355.18 619.83 355.4 617C355.62 614.17 355.6 610.83 355.4 608C355.2 605.17 355.03 602.33 354.2 600C353.37 597.67 352.17 595.8 350.4 594C348.63 592.2 346.07 590.35 343.6 589.2C341.13 588.05 339.27 587.68 335.6 587.1C331.93 586.52 324.73 585.95 321.6 585.7C318.47 585.45 318.4 585.6 316.8 585.6Z" fill="url(#gInner)" stroke="#7e7a7a" stroke-width="0.8"/>
<ellipse cx="316.8" cy="609.5" rx="22.5" ry="9" fill="#bcbaba" filter="url(#fBlur)" opacity="0.85"/>
<ellipse cx="316.8" cy="609.5" rx="22" ry="8.6" fill="#000" filter="url(#fChrom)" opacity="0.8"/>
<text x="294.46" y="627" font-size="11" fill="#1a1a1a" textLength="44.49" lengthAdjust="spacingAndGlyphs">Signaling</text>
<path d="M462.6 583.1C461 583.1 460.93 583.02 457.8 583.1C454.67 583.18 447.47 583.27 443.8 583.6C440.13 583.93 438.13 584.43 435.8 585.1C433.47 585.77 431.63 586.45 429.8 587.6C427.97 588.75 426.22 590.43 424.8 592C423.38 593.57 422.28 595.17 421.3 597C420.32 598.83 419.47 600.83 418.9 603C418.33 605.17 418.1 607.5 417.9 610C417.7 612.5 417.68 615.67 417.7 618C417.72 620.33 417.7 622.17 418 624C418.3 625.83 418.83 627.5 419.5 629C420.17 630.5 420.92 631.75 422 633C423.08 634.25 424.37 635.42 426 636.5C427.63 637.58 429.5 638.58 431.8 639.5C434.1 640.42 436.97 641.13 439.8 642C442.63 642.87 445.83 644.03 448.8 644.7C451.77 645.37 455.3 645.75 457.6 646C459.9 646.25 460.93 646.2 462.6 646.2C464.27 646.2 465.3 646.25 467.6 646C469.9 645.75 473.43 645.37 476.4 644.7C479.37 644.03 482.57 642.87 485.4 642C488.23 641.13 491.1 640.42 493.4 639.5C495.7 638.58 497.57 637.58 499.2 636.5C500.83 635.42 502.12 634.25 503.2 633C504.28 631.75 505.03 630.5 505.7 629C506.37 627.5 506.9 625.83 507.2 624C507.5 622.17 507.48 620.33 507.5 618C507.52 615.67 507.5 612.5 507.3 610C507.1 607.5 506.87 605.17 506.3 603C505.73 600.83 504.88 598.83 503.9 597C502.92 595.17 501.82 593.57 500.4 592C498.98 590.43 497.23 588.75 495.4 587.6C493.57 586.45 491.73 585.77 489.4 585.1C487.07 584.43 485.07 583.93 481.4 583.6C477.73 583.27 470.53 583.18 467.4 583.1C464.27 583.02 464.2 583.1 462.6 583.1Z" fill="url(#gOuter)" stroke="#808080" stroke-width="0.7"/>
<path d="M462.6 585.6C461 585.6 460.93 585.45 457.8 585.7C454.67 585.95 447.47 586.52 443.8 587.1C440.13 587.68 438.27 588.05 435.8 589.2C433.33 590.35 430.77 592.2 429 594C427.23 595.8 426.03 597.67 425.2 600C424.37 602.33 424.2 605.17 424 608C423.8 610.83 423.78 614.17 424 617C424.22 619.83 424.5 622.67 425.3 625C426.1 627.33 427.38 629.33 428.8 631C430.22 632.67 431.63 633.72 433.8 635C435.97 636.28 438.8 637.62 441.8 638.7C444.8 639.78 448.33 640.95 451.8 641.5C455.27 642.05 459 642 462.6 642C466.2 642 469.93 642.05 473.4 641.5C476.87 640.95 480.4 639.78 483.4 638.7C486.4 637.62 489.23 636.28 491.4 635C493.57 633.72 494.98 632.67 496.4 631C497.82 629.33 499.1 627.33 499.9 625C500.7 622.67 500.98 619.83 501.2 617C501.42 614.17 501.4 610.83 501.2 608C501 605.17 500.83 602.33 500 600C499.17 597.67 497.97 595.8 496.2 594C494.43 592.2 491.87 590.35 489.4 589.2C486.93 588.05 485.07 587.68 481.4 587.1C477.73 586.52 470.53 585.95 467.4 585.7C464.27 585.45 464.2 585.6 462.6 585.6Z" fill="url(#gInner)" stroke="#7e7a7a" stroke-width="0.8"/>
<ellipse cx="462.6" cy="609.5" rx="22.5" ry="9" fill="#bcbaba" filter="url(#fBlur)" opacity="0.85"/>
<ellipse cx="462.6" cy="609.5" rx="22" ry="8.6" fill="#000" filter="url(#fChrom)" opacity="0.8"/>
<text x="441.26" y="627" font-size="11" fill="#1a1a1a" textLength="44.28" lengthAdjust="spacingAndGlyphs">Signaling</text>
<rect x="36.6" y="672.5" width="186.8" height="27.3" rx="4.8" ry="4.8" fill="#dbd8d8"/>
<rect x="37.9" y="673.8" width="184.2" height="24.7" rx="3.6" ry="3.6" fill="none" stroke="#f3f1f1" stroke-width="0.9"/>
<rect x="36.6" y="672.5" width="186.8" height="27.3" rx="4.8" ry="4.8" fill="none" stroke="#151515" stroke-width="1.45" stroke-dasharray="0.05 2.72" stroke-linecap="round"/>
<text x="98.04" y="689.7" font-size="12" fill="#1a1a1a" textLength="63.77" lengthAdjust="spacingAndGlyphs">HSPC survival</text>
<rect x="294.3" y="672.5" width="186.8" height="27.3" rx="4.8" ry="4.8" fill="#dbd8d8"/>
<rect x="295.6" y="673.8" width="184.2" height="24.7" rx="3.6" ry="3.6" fill="none" stroke="#f3f1f1" stroke-width="0.9"/>
<rect x="294.3" y="672.5" width="186.8" height="27.3" rx="4.8" ry="4.8" fill="none" stroke="#151515" stroke-width="1.45" stroke-dasharray="0.05 2.72" stroke-linecap="round"/>
<text x="355.63" y="689.7" font-size="12" fill="#1a1a1a" textLength="64.29" lengthAdjust="spacingAndGlyphs">HSPC survival</text>
<path d="M45.2 567.4C45.4 573.6 49 578.4 53.7 580.6" fill="none" stroke="#858382" stroke-width="3.3" stroke-linecap="round" stroke-linejoin="round"/>
<path d="M45.2 567.4C45.4 573.6 49 578.4 53.7 580.6" fill="none" stroke="url(#gArm)" stroke-width="2.7" stroke-linecap="round" stroke-linejoin="round"/>
<path d="M67.6 567.4C67.4 573.6 63.8 578.4 59.0 580.6" fill="none" stroke="#858382" stroke-width="3.3" stroke-linecap="round" stroke-linejoin="round"/>
<path d="M67.6 567.4C67.4 573.6 63.8 578.4 59.0 580.6" fill="none" stroke="url(#gArm)" stroke-width="2.7" stroke-linecap="round" stroke-linejoin="round"/>
<path d="M53.7 580.2L53.7 593.8" stroke="url(#gStem)" stroke-width="2.5" stroke-linecap="round"/>
<path d="M59 580.2L59 593.8" stroke="url(#gStem)" stroke-width="2.5" stroke-linecap="round"/>
<path transform="translate(55.95 563.4) rotate(0)" d="M7.6,0 L7.44,1.46 L7.15,2.9 L6.75,4.29 L6.25,5.6 L5.66,6.82 L4.99,7.92 L4.26,8.89 L3.47,9.7 L2.64,10.35 L1.78,10.82 L0.89,11.1 L0,11.2 L-0.89,11.1 L-1.78,10.82 L-2.64,10.35 L-3.47,9.7 L-4.26,8.89 L-4.99,7.92 L-5.66,6.82 L-6.25,5.6 L-6.75,4.29 L-7.15,2.9 L-7.44,1.46 L-7.6,0 L-7.63,-1.46 L-7.53,-2.9 L-7.29,-4.29 L-6.91,-5.6 L-6.4,-6.82 L-5.75,-7.92 L-4.99,-8.89 L-4.13,-9.7 L-3.18,-10.35 L-2.16,-10.82 L-1.09,-11.1 L-0,-11.2 L1.09,-11.1 L2.16,-10.82 L3.18,-10.35 L4.13,-9.7 L4.99,-8.89 L5.75,-7.92 L6.4,-6.82 L6.91,-5.6 L7.29,-4.29 L7.53,-2.9 L7.63,-1.46Z" fill="url(#gGray)" stroke="#5a5a5a" stroke-width="0.6"/>
<line x1="44.4" y1="549.1" x2="52.2" y2="556.9" stroke="#111" stroke-width="1.2"/>
<text x="21.05" y="552.6" font-size="10.8" fill="#1a1a1a" textLength="18.74" lengthAdjust="spacingAndGlyphs">TPO</text>
<line x1="67.8" y1="575" x2="83.9" y2="575" stroke="#666" stroke-width="1.3"/>
<text x="88.13" y="578" font-size="10.8" fill="#1a1a1a" textLength="28.24" lengthAdjust="spacingAndGlyphs">c-MPL</text>
<line x1="56.6" y1="599" x2="56.6" y2="607.1" stroke="#111" stroke-width="1.35"/>
<path d="M56.6 614L52.6 605L56.6 606.6L60.6 605Z" fill="#111"/>
<line x1="57" y1="652" x2="57" y2="659.7" stroke="#111" stroke-width="1.35"/>
<path d="M57 666.6L53 657.6L57 659.2L61 657.6Z" fill="#111"/>
<line x1="113.5" y1="610.9" x2="144.7" y2="610.9" stroke="#111" stroke-width="1.35"/>
<path d="M150.6 610.9L141.6 607.4L144.2 610.9L141.6 614.4Z" fill="#111"/>
<path d="M189.6 565.8C189.8 571.6 193.5 575.4 198.9 577.6" fill="none" stroke="#858382" stroke-width="3.3" stroke-linecap="round" stroke-linejoin="round"/>
<path d="M189.6 565.8C189.8 571.6 193.5 575.4 198.9 577.6" fill="none" stroke="url(#gArm)" stroke-width="2.7" stroke-linecap="round" stroke-linejoin="round"/>
<path d="M198.9 577.2L198.9 592.2" stroke="url(#gStem)" stroke-width="2.5" stroke-linecap="round"/>
<path d="M226.4 576.9C221.5 579.0 216.5 579.0 211.8 580.0" fill="none" stroke="#858382" stroke-width="3.3" stroke-linecap="round" stroke-linejoin="round"/>
<path d="M226.4 576.9C221.5 579.0 216.5 579.0 211.8 580.0" fill="none" stroke="url(#gArm2)" stroke-width="2.7" stroke-linecap="round" stroke-linejoin="round"/>
<path d="M211.8 579.8L203.6 592.0" stroke="url(#gStem)" stroke-width="2.5" stroke-linecap="round"/>
<path transform="translate(200 562.5) rotate(6)" d="M7,0 L6.85,1.44 L6.59,2.85 L6.22,4.21 L5.76,5.5 L5.22,6.7 L4.6,7.78 L3.92,8.73 L3.2,9.53 L2.43,10.16 L1.64,10.63 L0.82,10.91 L0,11 L-0.82,10.91 L-1.64,10.63 L-2.43,10.16 L-3.2,9.53 L-3.92,8.73 L-4.6,7.78 L-5.22,6.7 L-5.76,5.5 L-6.22,4.21 L-6.59,2.85 L-6.85,1.44 L-7,0 L-7.03,-1.44 L-6.94,-2.85 L-6.71,-4.21 L-6.37,-5.5 L-5.89,-6.7 L-5.3,-7.78 L-4.6,-8.73 L-3.8,-9.53 L-2.93,-10.16 L-1.99,-10.63 L-1,-10.91 L-0,-11 L1,-10.91 L1.99,-10.63 L2.93,-10.16 L3.8,-9.53 L4.6,-8.73 L5.3,-7.78 L5.89,-6.7 L6.37,-5.5 L6.71,-4.21 L6.94,-2.85 L7.03,-1.44Z" fill="url(#gGray)" stroke="#5a5a5a" stroke-width="0.6"/>
<path transform="translate(214.8 556.2) rotate(14)" d="M6.9,0 L6.75,1.4 L6.49,2.77 L6.13,4.09 L5.68,5.35 L5.14,6.51 L4.53,7.57 L3.87,8.49 L3.15,9.27 L2.4,9.89 L1.61,10.34 L0.81,10.61 L0,10.7 L-0.81,10.61 L-1.61,10.34 L-2.4,9.89 L-3.15,9.27 L-3.87,8.49 L-4.53,7.57 L-5.14,6.51 L-5.68,5.35 L-6.13,4.09 L-6.49,2.77 L-6.75,1.4 L-6.9,0 L-6.93,-1.4 L-6.84,-2.77 L-6.62,-4.09 L-6.27,-5.35 L-5.81,-6.51 L-5.22,-7.57 L-4.53,-8.49 L-3.75,-9.27 L-2.88,-9.89 L-1.96,-10.34 L-0.99,-10.61 L-0,-10.7 L0.99,-10.61 L1.96,-10.34 L2.88,-9.89 L3.75,-9.27 L4.53,-8.49 L5.22,-7.57 L5.81,-6.51 L6.27,-5.35 L6.62,-4.09 L6.84,-2.77 L6.93,-1.4Z" fill="url(#gRed)" stroke="#7d5a5a" stroke-width="0.6"/>
<line x1="183.1" y1="558" x2="193.6" y2="558" stroke="#555" stroke-width="1.1"/>
<text x="123.3" y="560.6" font-size="10.8" fill="#1a1a1a" textLength="54.43" lengthAdjust="spacingAndGlyphs">Heteromers</text>
<line x1="145.8" y1="564.8" x2="145.8" y2="576.8" stroke="#666" stroke-width="1.1"/>
<path transform="translate(146.3 587.3) rotate(6)" d="M7.5,0 L7.34,1.46 L7.06,2.9 L6.66,4.29 L6.17,5.6 L5.59,6.82 L4.93,7.92 L4.2,8.89 L3.43,9.7 L2.6,10.35 L1.75,10.82 L0.88,11.1 L0,11.2 L-0.88,11.1 L-1.75,10.82 L-2.6,10.35 L-3.43,9.7 L-4.2,8.89 L-4.93,7.92 L-5.59,6.82 L-6.17,5.6 L-6.66,4.29 L-7.06,2.9 L-7.34,1.46 L-7.5,0 L-7.53,-1.46 L-7.43,-2.9 L-7.19,-4.29 L-6.82,-5.6 L-6.31,-6.82 L-5.68,-7.92 L-4.93,-8.89 L-4.07,-9.7 L-3.14,-10.35 L-2.13,-10.82 L-1.08,-11.1 L-0,-11.2 L1.08,-11.1 L2.13,-10.82 L3.14,-10.35 L4.07,-9.7 L4.93,-8.89 L5.68,-7.92 L6.31,-6.82 L6.82,-5.6 L7.19,-4.29 L7.43,-2.9 L7.53,-1.46Z" fill="url(#gGray)" stroke="#5a5a5a" stroke-width="0.6"/>
<path transform="translate(158.4 576.9) rotate(12)" d="M6.7,0 L6.56,1.36 L6.3,2.69 L5.95,3.98 L5.51,5.2 L4.99,6.33 L4.4,7.35 L3.76,8.25 L3.06,9.01 L2.33,9.61 L1.57,10.05 L0.79,10.31 L0,10.4 L-0.79,10.31 L-1.57,10.05 L-2.33,9.61 L-3.06,9.01 L-3.76,8.25 L-4.4,7.35 L-4.99,6.33 L-5.51,5.2 L-5.95,3.98 L-6.3,2.69 L-6.56,1.36 L-6.7,0 L-6.73,-1.36 L-6.64,-2.69 L-6.43,-3.98 L-6.09,-5.2 L-5.64,-6.33 L-5.07,-7.35 L-4.4,-8.25 L-3.64,-9.01 L-2.8,-9.61 L-1.9,-10.05 L-0.96,-10.31 L-0,-10.4 L0.96,-10.31 L1.9,-10.05 L2.8,-9.61 L3.64,-9.01 L4.4,-8.25 L5.07,-7.35 L5.64,-6.33 L6.09,-5.2 L6.43,-3.98 L6.64,-2.69 L6.73,-1.36Z" fill="url(#gRed)" stroke="#7d5a5a" stroke-width="0.6"/>
<line x1="112.6" y1="625.4" x2="118.8" y2="625.4" stroke="#222" stroke-width="1"/>
<line x1="115.7" y1="622.3" x2="115.7" y2="628.5" stroke="#222" stroke-width="1"/>
<path transform="translate(129.2 629.4) rotate(12)" d="M7.2,0 L7.05,1.41 L6.77,2.8 L6.4,4.13 L5.92,5.4 L5.36,6.57 L4.73,7.64 L4.04,8.57 L3.29,9.35 L2.5,9.98 L1.68,10.43 L0.85,10.71 L0,10.8 L-0.85,10.71 L-1.68,10.43 L-2.5,9.98 L-3.29,9.35 L-4.04,8.57 L-4.73,7.64 L-5.36,6.57 L-5.92,5.4 L-6.4,4.13 L-6.77,2.8 L-7.05,1.41 L-7.2,0 L-7.23,-1.41 L-7.13,-2.8 L-6.91,-4.13 L-6.55,-5.4 L-6.06,-6.57 L-5.45,-7.64 L-4.73,-8.57 L-3.91,-9.35 L-3.01,-9.98 L-2.04,-10.43 L-1.03,-10.71 L-0,-10.8 L1.03,-10.71 L2.04,-10.43 L3.01,-9.98 L3.91,-9.35 L4.73,-8.57 L5.45,-7.64 L6.06,-6.57 L6.55,-5.4 L6.91,-4.13 L7.13,-2.8 L7.23,-1.41Z" fill="url(#gRed)" stroke="#7d5a5a" stroke-width="0.6"/>
<line x1="133.6" y1="636.8" x2="138" y2="645.8" stroke="#111" stroke-width="1"/>
<text x="136.58" y="657.2" font-size="10.8" fill="#1a1a1a" textLength="20.01" lengthAdjust="spacingAndGlyphs">IFNγ</text>
<ellipse cx="188.2" cy="605.1" rx="6.3" ry="6.5" fill="#fdf9f8" stroke="#c5463f" stroke-width="1.1"/>
<line x1="185.05" y1="601.95" x2="191.35" y2="608.25" stroke="#c5463f" stroke-width="1.15"/>
<line x1="185.05" y1="608.25" x2="191.35" y2="601.95" stroke="#c5463f" stroke-width="1.15"/>
<line x1="201.4" y1="597.9" x2="201.4" y2="611.3" stroke="#111" stroke-width="1.05"/>
<line x1="196.5" y1="611.3" x2="206.3" y2="611.3" stroke="#111" stroke-width="1.15"/>
<line x1="201.3" y1="650.4" x2="201.3" y2="665.2" stroke="#111" stroke-width="1.05"/>
<line x1="196.4" y1="665.2" x2="206.2" y2="665.2" stroke="#111" stroke-width="1.15"/>
<ellipse cx="215" cy="660.8" rx="6.4" ry="7.1" fill="#fdf9f8" stroke="#c5463f" stroke-width="1.1"/>
<line x1="211.8" y1="657.6" x2="218.2" y2="664" stroke="#c5463f" stroke-width="1.15"/>
<line x1="211.8" y1="664" x2="218.2" y2="657.6" stroke="#c5463f" stroke-width="1.15"/>
<path d="M305.2 567.3C305.6 573.4 309.6 577.0 314.4 578.3" fill="none" stroke="#858382" stroke-width="3.3" stroke-linecap="round" stroke-linejoin="round"/>
<path d="M305.2 567.3C305.6 573.4 309.6 577.0 314.4 578.3" fill="none" stroke="url(#gArm)" stroke-width="2.7" stroke-linecap="round" stroke-linejoin="round"/>
<path d="M328.6 567.3C328.2 573.4 324.2 577.0 319.4 578.3" fill="none" stroke="#858382" stroke-width="3.3" stroke-linecap="round" stroke-linejoin="round"/>
<path d="M328.6 567.3C328.2 573.4 324.2 577.0 319.4 578.3" fill="none" stroke="url(#gArm)" stroke-width="2.7" stroke-linecap="round" stroke-linejoin="round"/>
<path d="M314.2 589.5L314.2 594.2" stroke="url(#gStub)" stroke-width="2.6" stroke-linecap="round"/>
<path d="M319.4 589.5L319.4 594.2" stroke="url(#gStub)" stroke-width="2.6" stroke-linecap="round"/>
<path transform="translate(316.85 585.6) rotate(0)" d="M5.6,0 L5.51,0.91 L5.33,1.81 L5.05,2.68 L4.7,3.5 L4.28,4.26 L3.79,4.95 L3.25,5.55 L2.65,6.06 L2.02,6.47 L1.37,6.76 L0.69,6.94 L0,7 L-0.69,6.94 L-1.37,6.76 L-2.02,6.47 L-2.65,6.06 L-3.25,5.55 L-3.79,4.95 L-4.28,4.26 L-4.7,3.5 L-5.05,2.68 L-5.33,1.81 L-5.51,0.91 L-5.6,0 L-5.6,-0.91 L-5.49,-1.81 L-5.29,-2.68 L-5,-3.5 L-4.61,-4.26 L-4.13,-4.95 L-3.57,-5.55 L-2.95,-6.06 L-2.26,-6.47 L-1.53,-6.76 L-0.77,-6.94 L-0,-7 L0.77,-6.94 L1.53,-6.76 L2.26,-6.47 L2.95,-6.06 L3.57,-5.55 L4.13,-4.95 L4.61,-4.26 L5,-3.5 L5.29,-2.68 L5.49,-1.81 L5.6,-0.91Z" fill="url(#gYel)" stroke="#857448" stroke-width="0.7"/>
<line x1="322.3" y1="582.3" x2="339.7" y2="574.3" stroke="#111" stroke-width="1"/>
<text x="344.45" y="577.3" font-size="10.8" fill="#1a1a1a" textLength="62" lengthAdjust="spacingAndGlyphs">Eltrombopag</text>
<line x1="317.1" y1="599.4" x2="317.1" y2="607.4" stroke="#111" stroke-width="1.35"/>
<path d="M317.1 614.3L313.1 605.3L317.1 606.9L321.1 605.3Z" fill="#111"/>
<line x1="316.6" y1="652.6" x2="316.6" y2="659.6" stroke="#111" stroke-width="1.35"/>
<path d="M316.6 666.5L312.6 657.5L316.6 659.1L320.6 657.5Z" fill="#111"/>
<line x1="371.6" y1="610.4" x2="402.4" y2="610.4" stroke="#111" stroke-width="1.35"/>
<path d="M408.3 610.4L399.3 606.9L401.9 610.4L399.3 613.9Z" fill="#111"/>
<line x1="370.9" y1="625.4" x2="377.1" y2="625.4" stroke="#222" stroke-width="1"/>
<line x1="374" y1="622.3" x2="374" y2="628.5" stroke="#222" stroke-width="1"/>
<path transform="translate(391 629.3) rotate(10)" d="M7.1,0 L6.95,1.41 L6.68,2.8 L6.31,4.13 L5.84,5.4 L5.29,6.57 L4.67,7.64 L3.98,8.57 L3.24,9.35 L2.47,9.98 L1.66,10.43 L0.83,10.71 L0,10.8 L-0.83,10.71 L-1.66,10.43 L-2.47,9.98 L-3.24,9.35 L-3.98,8.57 L-4.67,7.64 L-5.29,6.57 L-5.84,5.4 L-6.31,4.13 L-6.68,2.8 L-6.95,1.41 L-7.1,0 L-7.13,-1.41 L-7.04,-2.8 L-6.81,-4.13 L-6.46,-5.4 L-5.98,-6.57 L-5.38,-7.64 L-4.67,-8.57 L-3.86,-9.35 L-2.97,-9.98 L-2.02,-10.43 L-1.02,-10.71 L-0,-10.8 L1.02,-10.71 L2.02,-10.43 L2.97,-9.98 L3.86,-9.35 L4.67,-8.57 L5.38,-7.64 L5.98,-6.57 L6.46,-5.4 L6.81,-4.13 L7.04,-2.8 L7.13,-1.41Z" fill="url(#gRed)" stroke="#7d5a5a" stroke-width="0.6"/>
<line x1="392.7" y1="638.6" x2="396.5" y2="647" stroke="#111" stroke-width="1"/>
<text x="395.21" y="657.5" font-size="10.8" fill="#1a1a1a" textLength="19.17" lengthAdjust="spacingAndGlyphs">IFNγ</text>
<path d="M451.4 565.8C451.4 579.5 475.3 579.5 475.3 565.8" fill="none" stroke="#908e8c" stroke-width="3.4" stroke-linecap="round"/>
<path d="M451.4 565.8C451.4 579.5 475.3 579.5 475.3 565.8" fill="none" stroke="url(#gArm)" stroke-width="2.6" stroke-linecap="round"/>
<path d="M460.6 588.5L460.6 593.6" stroke="url(#gStub)" stroke-width="2.6" stroke-linecap="round"/>
<path d="M466.3 588.5L466.3 593.6" stroke="url(#gStub)" stroke-width="2.6" stroke-linecap="round"/>
<path transform="translate(463.8 583.4) rotate(0)" d="M5.6,0 L5.51,0.93 L5.33,1.84 L5.05,2.72 L4.7,3.55 L4.28,4.32 L3.79,5.02 L3.25,5.63 L2.65,6.15 L2.02,6.56 L1.37,6.86 L0.69,7.04 L0,7.1 L-0.69,7.04 L-1.37,6.86 L-2.02,6.56 L-2.65,6.15 L-3.25,5.63 L-3.79,5.02 L-4.28,4.32 L-4.7,3.55 L-5.05,2.72 L-5.33,1.84 L-5.51,0.93 L-5.6,0 L-5.6,-0.93 L-5.49,-1.84 L-5.29,-2.72 L-5,-3.55 L-4.61,-4.32 L-4.13,-5.02 L-3.57,-5.63 L-2.95,-6.15 L-2.26,-6.56 L-1.53,-6.86 L-0.77,-7.04 L-0,-7.1 L0.77,-7.04 L1.53,-6.86 L2.26,-6.56 L2.95,-6.15 L3.57,-5.63 L4.13,-5.02 L4.61,-4.32 L5,-3.55 L5.29,-2.72 L5.49,-1.84 L5.6,-0.93Z" fill="url(#gYel)" stroke="#857448" stroke-width="0.7"/>
<path transform="translate(465.2 551.4) rotate(0)" d="M6,0 L5.9,0.93 L5.71,1.84 L5.42,2.72 L5.04,3.55 L4.59,4.32 L4.06,5.02 L3.48,5.63 L2.84,6.15 L2.17,6.56 L1.46,6.86 L0.74,7.04 L0,7.1 L-0.74,7.04 L-1.46,6.86 L-2.17,6.56 L-2.84,6.15 L-3.48,5.63 L-4.06,5.02 L-4.59,4.32 L-5.04,3.55 L-5.42,2.72 L-5.71,1.84 L-5.9,0.93 L-6,0 L-6,-0.93 L-5.89,-1.84 L-5.67,-2.72 L-5.35,-3.55 L-4.93,-4.32 L-4.42,-5.02 L-3.83,-5.63 L-3.16,-6.15 L-2.42,-6.56 L-1.64,-6.86 L-0.83,-7.04 L-0,-7.1 L0.83,-7.04 L1.64,-6.86 L2.42,-6.56 L3.16,-6.15 L3.83,-5.63 L4.42,-5.02 L4.93,-4.32 L5.35,-3.55 L5.67,-2.72 L5.89,-1.84 L6,-0.93Z" fill="url(#gYel)" stroke="#857448" stroke-width="0.7"/>
<path transform="translate(502.5 576.6) rotate(0)" d="M6,0 L5.9,0.94 L5.71,1.86 L5.42,2.76 L5.04,3.6 L4.59,4.38 L4.06,5.09 L3.48,5.71 L2.84,6.24 L2.17,6.65 L1.46,6.95 L0.74,7.14 L0,7.2 L-0.74,7.14 L-1.46,6.95 L-2.17,6.65 L-2.84,6.24 L-3.48,5.71 L-4.06,5.09 L-4.59,4.38 L-5.04,3.6 L-5.42,2.76 L-5.71,1.86 L-5.9,0.94 L-6,0 L-6,-0.94 L-5.89,-1.86 L-5.67,-2.76 L-5.35,-3.6 L-4.93,-4.38 L-4.42,-5.09 L-3.83,-5.71 L-3.16,-6.24 L-2.42,-6.65 L-1.64,-6.95 L-0.83,-7.14 L-0,-7.2 L0.83,-7.14 L1.64,-6.95 L2.42,-6.65 L3.16,-6.24 L3.83,-5.71 L4.42,-5.09 L4.93,-4.38 L5.35,-3.6 L5.67,-2.76 L5.89,-1.86 L6,-0.94Z" fill="url(#gYel)" stroke="#857448" stroke-width="0.7"/>
<path transform="translate(432.8 560.8) rotate(12)" d="M7,0 L6.85,1.38 L6.59,2.74 L6.22,4.06 L5.76,5.3 L5.22,6.45 L4.6,7.5 L3.92,8.41 L3.2,9.18 L2.43,9.79 L1.64,10.24 L0.82,10.51 L0,10.6 L-0.82,10.51 L-1.64,10.24 L-2.43,9.79 L-3.2,9.18 L-3.92,8.41 L-4.6,7.5 L-5.22,6.45 L-5.76,5.3 L-6.22,4.06 L-6.59,2.74 L-6.85,1.38 L-7,0 L-7.03,-1.38 L-6.94,-2.74 L-6.71,-4.06 L-6.37,-5.3 L-5.89,-6.45 L-5.3,-7.5 L-4.6,-8.41 L-3.8,-9.18 L-2.93,-9.79 L-1.99,-10.24 L-1,-10.51 L-0,-10.6 L1,-10.51 L1.99,-10.24 L2.93,-9.79 L3.8,-9.18 L4.6,-8.41 L5.3,-7.5 L5.89,-6.45 L6.37,-5.3 L6.71,-4.06 L6.94,-2.74 L7.03,-1.38Z" fill="url(#gRed)" stroke="#7d5a5a" stroke-width="0.6"/>
<path transform="translate(491.6 543.2) rotate(12)" d="M6.9,0 L6.75,1.34 L6.49,2.67 L6.13,3.94 L5.68,5.15 L5.14,6.27 L4.53,7.28 L3.87,8.17 L3.15,8.92 L2.4,9.52 L1.61,9.95 L0.81,10.21 L0,10.3 L-0.81,10.21 L-1.61,9.95 L-2.4,9.52 L-3.15,8.92 L-3.87,8.17 L-4.53,7.28 L-5.14,6.27 L-5.68,5.15 L-6.13,3.94 L-6.49,2.67 L-6.75,1.34 L-6.9,0 L-6.93,-1.34 L-6.84,-2.67 L-6.62,-3.94 L-6.27,-5.15 L-5.81,-6.27 L-5.22,-7.28 L-4.53,-8.17 L-3.75,-8.92 L-2.88,-9.52 L-1.96,-9.95 L-0.99,-10.21 L-0,-10.3 L0.99,-10.21 L1.96,-9.95 L2.88,-9.52 L3.75,-8.92 L4.53,-8.17 L5.22,-7.28 L5.81,-6.27 L6.27,-5.15 L6.62,-3.94 L6.84,-2.67 L6.93,-1.34Z" fill="url(#gRed)" stroke="#7d5a5a" stroke-width="0.6"/>
<ellipse cx="451.4" cy="606.4" rx="7" ry="7.6" fill="#fdfcf8" stroke="#8f7a4e" stroke-width="1.2"/>
<path d="M447 607.4L449.9 610.9L455.6 601.9" fill="none" stroke="#6e5c34" stroke-width="1.3" stroke-linejoin="round"/>
<line x1="463.6" y1="600.5" x2="463.6" y2="607.7" stroke="#111" stroke-width="1.35"/>
<path d="M463.6 614.6L459.6 605.6L463.6 607.2L467.6 605.6Z" fill="#111"/>
<line x1="463.65" y1="651.7" x2="463.65" y2="659.7" stroke="#111" stroke-width="1.35"/>
<path d="M463.65 666.6L459.65 657.6L463.65 659.2L467.65 657.6Z" fill="#111"/>
<ellipse cx="476.4" cy="660.9" rx="7.1" ry="7.6" fill="#fdfcf8" stroke="#8f7a4e" stroke-width="1.2"/>
<path d="M472 661.9L474.9 665.4L480.6 656.4" fill="none" stroke="#6e5c34" stroke-width="1.3" stroke-linejoin="round"/>
<rect x="0" y="0" width="520" height="1" fill="#8c8c8c"/>
<rect x="0" y="1" width="519" height="1" fill="#111"/>
<rect x="0" y="1" width="1.3" height="714" fill="#111"/>
<rect x="518" y="1" width="1" height="714" fill="#111"/>
<rect x="519" y="0" width="1" height="716" fill="#8c8c8c"/>
<rect x="0" y="714" width="519" height="1" fill="#111"/>
<rect x="0" y="715" width="520" height="1" fill="#8c8c8c"/></svg></body></html>
